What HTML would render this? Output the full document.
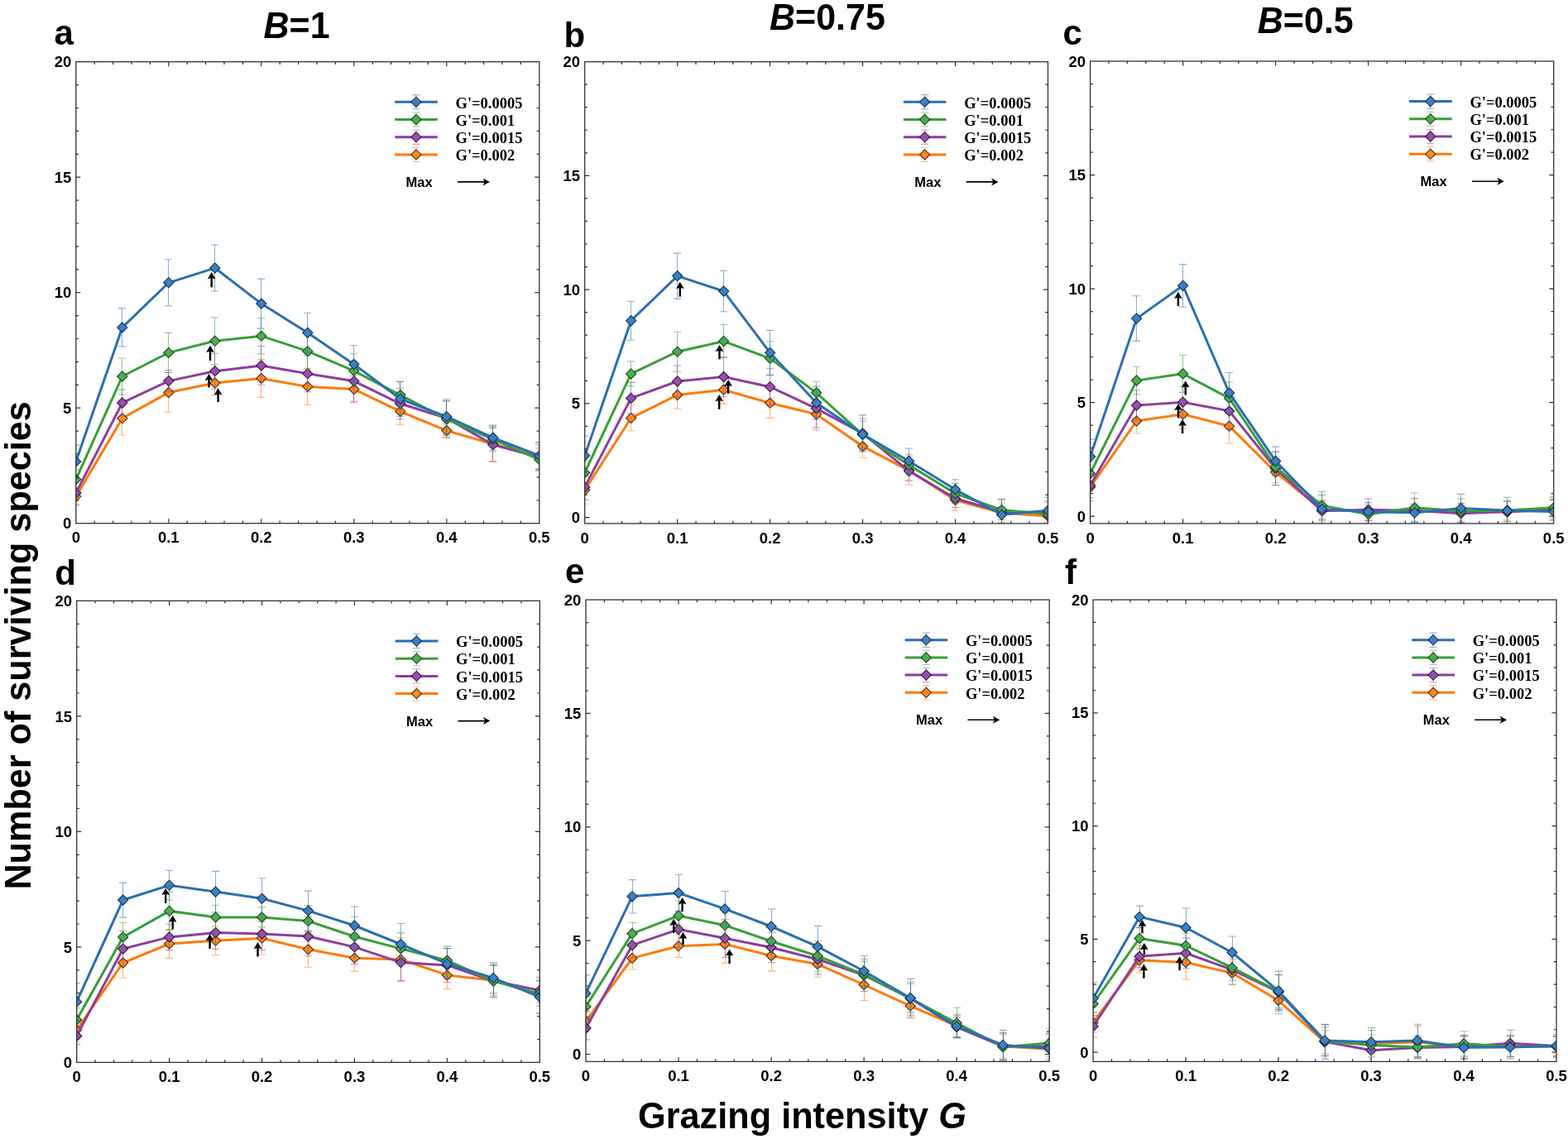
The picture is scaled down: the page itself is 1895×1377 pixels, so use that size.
<!DOCTYPE html>
<html><head><meta charset="utf-8"><title>Number of surviving species vs grazing intensity</title>
<style>html,body{margin:0;padding:0;background:#fff;}body{width:1895px;height:1377px;overflow:hidden;}svg{display:block;}.t{font-family:'Liberation Sans', Arial, Helvetica, sans-serif;font-weight:bold;fill:#000;}.s{font-family:'Liberation Serif', 'Times New Roman', serif;font-weight:bold;fill:#000;}</style></head><body>
<svg width="1895" height="1377" viewBox="0 0 1895 1377">
<rect width="1895" height="1377" fill="#fff"/>
<defs>
<clipPath id="cla"><rect x="91.8" y="74.7" width="560" height="558"/></clipPath>
<clipPath id="clb"><rect x="706.7" y="74.7" width="559.8" height="558.2"/></clipPath>
<clipPath id="clc"><rect x="1317.6" y="74" width="560.1" height="558.9"/></clipPath>
<clipPath id="cld"><rect x="92.7" y="726.4" width="559.6" height="558"/></clipPath>
<clipPath id="cle"><rect x="708" y="725.1" width="560.2" height="558.3"/></clipPath>
<clipPath id="clf"><rect x="1321.1" y="725.1" width="559.9" height="558.3"/></clipPath>
</defs>
<g clip-path="url(#cla)">
<path d="M91.5 589.2V611.2M86.9 589.2H96.1M86.9 611.2H96.1M147.5 485.4V526M142.9 485.4H152.1M142.9 526H152.1M203.5 450.7V498.3M198.9 450.7H208.1M198.9 498.3H208.1M259.5 448V478M254.9 448H264.1M254.9 478H264.1M315.5 434.4V480.4M310.9 434.4H320.1M310.9 480.4H320.1M371.5 445.4V489.4M366.9 445.4H376.1M366.9 489.4H376.1M427.5 454.6V486.6M422.9 454.6H432.1M422.9 486.6H432.1M483.5 481.7V513.1M478.9 481.7H488.1M478.9 513.1H488.1M539.5 512.1V529.1M534.9 512.1H544.1M534.9 529.1H544.1M595.5 515V558.4M590.9 515H600.1M590.9 558.4H600.1M651.5 535.2V568.4M646.9 535.2H656.1M646.9 568.4H656.1" stroke="#ff7a0a" stroke-opacity="0.55" stroke-width="1.1" fill="none"/>
<polyline points="91.8,600.2 147.8,505.7 203.8,474.5 259.8,463 315.8,457.4 371.8,467.4 427.8,470.6 483.8,497.4 539.8,520.6 595.8,536.7 651.8,551.8" fill="none" stroke="#ff7a0a" stroke-width="3.0" stroke-linejoin="miter" stroke-miterlimit="3"/>
<path d="M91.8 594.1L97.9 600.2L91.8 606.3L85.7 600.2Z" fill="#ff8a1e" stroke="#553010" stroke-width="1.1"/>
<path d="M147.8 499.6L153.9 505.7L147.8 511.8L141.7 505.7Z" fill="#ff8a1e" stroke="#553010" stroke-width="1.1"/>
<path d="M203.8 468.4L209.9 474.5L203.8 480.6L197.7 474.5Z" fill="#ff8a1e" stroke="#553010" stroke-width="1.1"/>
<path d="M259.8 456.9L265.9 463L259.8 469.1L253.7 463Z" fill="#ff8a1e" stroke="#553010" stroke-width="1.1"/>
<path d="M315.8 451.3L321.9 457.4L315.8 463.5L309.7 457.4Z" fill="#ff8a1e" stroke="#553010" stroke-width="1.1"/>
<path d="M371.8 461.3L377.9 467.4L371.8 473.5L365.7 467.4Z" fill="#ff8a1e" stroke="#553010" stroke-width="1.1"/>
<path d="M427.8 464.5L433.9 470.6L427.8 476.7L421.7 470.6Z" fill="#ff8a1e" stroke="#553010" stroke-width="1.1"/>
<path d="M483.8 491.3L489.9 497.4L483.8 503.5L477.7 497.4Z" fill="#ff8a1e" stroke="#553010" stroke-width="1.1"/>
<path d="M539.8 514.5L545.9 520.6L539.8 526.7L533.7 520.6Z" fill="#ff8a1e" stroke="#553010" stroke-width="1.1"/>
<path d="M595.8 530.6L601.9 536.7L595.8 542.8L589.7 536.7Z" fill="#ff8a1e" stroke="#553010" stroke-width="1.1"/>
<path d="M651.8 545.7L657.9 551.8L651.8 557.9L645.7 551.8Z" fill="#ff8a1e" stroke="#553010" stroke-width="1.1"/>
<path d="M91.5 581.9V609.9M86.9 581.9H96.1M86.9 609.9H96.1M147.5 471V503M142.9 471H152.1M142.9 503H152.1M203.5 447.6V473.6M198.9 447.6H208.1M198.9 473.6H208.1M259.5 427.2V470.2M254.9 427.2H264.1M254.9 470.2H264.1M315.5 418.5V465.3M310.9 418.5H320.1M310.9 465.3H320.1M371.5 429.7V473.7M366.9 429.7H376.1M366.9 473.7H376.1M427.5 436.4V485.2M422.9 436.4H432.1M422.9 485.2H432.1M483.5 469.3V506.7M478.9 469.3H488.1M478.9 506.7H488.1M539.5 484.8V526.2M534.9 484.8H544.1M534.9 526.2H544.1M595.5 517.4V557.8M590.9 517.4H600.1M590.9 557.8H600.1M651.5 537.7V567.7M646.9 537.7H656.1M646.9 567.7H656.1" stroke="#8d3e9f" stroke-opacity="0.55" stroke-width="1.1" fill="none"/>
<polyline points="91.8,595.9 147.8,487 203.8,460.6 259.8,448.7 315.8,441.9 371.8,451.7 427.8,460.8 483.8,488 539.8,505.5 595.8,537.6 651.8,552.7" fill="none" stroke="#8d3e9f" stroke-width="3.0" stroke-linejoin="miter" stroke-miterlimit="3"/>
<path d="M91.8 589.8L97.9 595.9L91.8 602L85.7 595.9Z" fill="#9b4db0" stroke="#3a1a44" stroke-width="1.1"/>
<path d="M147.8 480.9L153.9 487L147.8 493.1L141.7 487Z" fill="#9b4db0" stroke="#3a1a44" stroke-width="1.1"/>
<path d="M203.8 454.5L209.9 460.6L203.8 466.7L197.7 460.6Z" fill="#9b4db0" stroke="#3a1a44" stroke-width="1.1"/>
<path d="M259.8 442.6L265.9 448.7L259.8 454.8L253.7 448.7Z" fill="#9b4db0" stroke="#3a1a44" stroke-width="1.1"/>
<path d="M315.8 435.8L321.9 441.9L315.8 448L309.7 441.9Z" fill="#9b4db0" stroke="#3a1a44" stroke-width="1.1"/>
<path d="M371.8 445.6L377.9 451.7L371.8 457.8L365.7 451.7Z" fill="#9b4db0" stroke="#3a1a44" stroke-width="1.1"/>
<path d="M427.8 454.7L433.9 460.8L427.8 466.9L421.7 460.8Z" fill="#9b4db0" stroke="#3a1a44" stroke-width="1.1"/>
<path d="M483.8 481.9L489.9 488L483.8 494.1L477.7 488Z" fill="#9b4db0" stroke="#3a1a44" stroke-width="1.1"/>
<path d="M539.8 499.4L545.9 505.5L539.8 511.6L533.7 505.5Z" fill="#9b4db0" stroke="#3a1a44" stroke-width="1.1"/>
<path d="M595.8 531.5L601.9 537.6L595.8 543.7L589.7 537.6Z" fill="#9b4db0" stroke="#3a1a44" stroke-width="1.1"/>
<path d="M651.8 546.6L657.9 552.7L651.8 558.8L645.7 552.7Z" fill="#9b4db0" stroke="#3a1a44" stroke-width="1.1"/>
<path d="M91.5 567.6V591.6M86.9 567.6H96.1M86.9 591.6H96.1M147.5 433V477M142.9 433H152.1M142.9 477H152.1M203.5 402.4V450.4M198.9 402.4H208.1M198.9 450.4H208.1M259.5 383.7V440.7M254.9 383.7H264.1M254.9 440.7H264.1M315.5 384.5V427.9M310.9 384.5H320.1M310.9 427.9H320.1M371.5 402.7V446.7M366.9 402.7H376.1M366.9 446.7H376.1M427.5 427.8V468.8M422.9 427.8H432.1M422.9 468.8H432.1M483.5 461.6V493.6M478.9 461.6H488.1M478.9 493.6H488.1M539.5 484.9V528.9M534.9 484.9H544.1M534.9 528.9H544.1M595.5 516V546M590.9 516H600.1M590.9 546H600.1M651.5 542V569.2M646.9 542H656.1M646.9 569.2H656.1" stroke="#38a038" stroke-opacity="0.55" stroke-width="1.1" fill="none"/>
<polyline points="91.8,579.6 147.8,455 203.8,426.4 259.8,412.2 315.8,406.2 371.8,424.7 427.8,448.3 483.8,477.6 539.8,506.9 595.8,531 651.8,555.6" fill="none" stroke="#38a038" stroke-width="3.0" stroke-linejoin="miter" stroke-miterlimit="3"/>
<path d="M91.8 573.5L97.9 579.6L91.8 585.7L85.7 579.6Z" fill="#4cae4c" stroke="#1d4a1d" stroke-width="1.1"/>
<path d="M147.8 448.9L153.9 455L147.8 461.1L141.7 455Z" fill="#4cae4c" stroke="#1d4a1d" stroke-width="1.1"/>
<path d="M203.8 420.3L209.9 426.4L203.8 432.5L197.7 426.4Z" fill="#4cae4c" stroke="#1d4a1d" stroke-width="1.1"/>
<path d="M259.8 406.1L265.9 412.2L259.8 418.3L253.7 412.2Z" fill="#4cae4c" stroke="#1d4a1d" stroke-width="1.1"/>
<path d="M315.8 400.1L321.9 406.2L315.8 412.3L309.7 406.2Z" fill="#4cae4c" stroke="#1d4a1d" stroke-width="1.1"/>
<path d="M371.8 418.6L377.9 424.7L371.8 430.8L365.7 424.7Z" fill="#4cae4c" stroke="#1d4a1d" stroke-width="1.1"/>
<path d="M427.8 442.2L433.9 448.3L427.8 454.4L421.7 448.3Z" fill="#4cae4c" stroke="#1d4a1d" stroke-width="1.1"/>
<path d="M483.8 471.5L489.9 477.6L483.8 483.7L477.7 477.6Z" fill="#4cae4c" stroke="#1d4a1d" stroke-width="1.1"/>
<path d="M539.8 500.8L545.9 506.9L539.8 513L533.7 506.9Z" fill="#4cae4c" stroke="#1d4a1d" stroke-width="1.1"/>
<path d="M595.8 524.9L601.9 531L595.8 537.1L589.7 531Z" fill="#4cae4c" stroke="#1d4a1d" stroke-width="1.1"/>
<path d="M651.8 549.5L657.9 555.6L651.8 561.7L645.7 555.6Z" fill="#4cae4c" stroke="#1d4a1d" stroke-width="1.1"/>
<path d="M91.5 537.9V577.9M86.9 537.9H96.1M86.9 577.9H96.1M147.5 372.9V418.9M142.9 372.9H152.1M142.9 418.9H152.1M203.5 313.7V369.7M198.9 313.7H208.1M198.9 369.7H208.1M259.5 296V352M254.9 296H264.1M254.9 352H264.1M315.5 337.1V397.1M310.9 337.1H320.1M310.9 397.1H320.1M371.5 378.3V426.3M366.9 378.3H376.1M366.9 426.3H376.1M427.5 417.8V463M422.9 417.8H432.1M422.9 463H432.1M483.5 461.3V503.3M478.9 461.3H488.1M478.9 503.3H488.1M539.5 482.7V524.7M534.9 482.7H544.1M534.9 524.7H544.1M595.5 514.1V544.1M590.9 514.1H600.1M590.9 544.1H600.1M651.5 534.9V566.9M646.9 534.9H656.1M646.9 566.9H656.1" stroke="#2b6fb0" stroke-opacity="0.55" stroke-width="1.1" fill="none"/>
<polyline points="91.8,557.9 147.8,395.9 203.8,341.7 259.8,324 315.8,367.1 371.8,402.3 427.8,440.4 483.8,482.3 539.8,503.7 595.8,529.1 651.8,550.9" fill="none" stroke="#2b6fb0" stroke-width="3.0" stroke-linejoin="miter" stroke-miterlimit="3"/>
<path d="M91.8 551.8L97.9 557.9L91.8 564L85.7 557.9Z" fill="#3a80c6" stroke="#1b3550" stroke-width="1.1"/>
<path d="M147.8 389.8L153.9 395.9L147.8 402L141.7 395.9Z" fill="#3a80c6" stroke="#1b3550" stroke-width="1.1"/>
<path d="M203.8 335.6L209.9 341.7L203.8 347.8L197.7 341.7Z" fill="#3a80c6" stroke="#1b3550" stroke-width="1.1"/>
<path d="M259.8 317.9L265.9 324L259.8 330.1L253.7 324Z" fill="#3a80c6" stroke="#1b3550" stroke-width="1.1"/>
<path d="M315.8 361L321.9 367.1L315.8 373.2L309.7 367.1Z" fill="#3a80c6" stroke="#1b3550" stroke-width="1.1"/>
<path d="M371.8 396.2L377.9 402.3L371.8 408.4L365.7 402.3Z" fill="#3a80c6" stroke="#1b3550" stroke-width="1.1"/>
<path d="M427.8 434.3L433.9 440.4L427.8 446.5L421.7 440.4Z" fill="#3a80c6" stroke="#1b3550" stroke-width="1.1"/>
<path d="M483.8 476.2L489.9 482.3L483.8 488.4L477.7 482.3Z" fill="#3a80c6" stroke="#1b3550" stroke-width="1.1"/>
<path d="M539.8 497.6L545.9 503.7L539.8 509.8L533.7 503.7Z" fill="#3a80c6" stroke="#1b3550" stroke-width="1.1"/>
<path d="M595.8 523L601.9 529.1L595.8 535.2L589.7 529.1Z" fill="#3a80c6" stroke="#1b3550" stroke-width="1.1"/>
<path d="M651.8 544.8L657.9 550.9L651.8 557L645.7 550.9Z" fill="#3a80c6" stroke="#1b3550" stroke-width="1.1"/>
</g>
<path d="M255.7 347.3L255.7 333" stroke="#000" stroke-width="2.4" fill="none"/><path d="M255.7 329L260.5 337.2L255.7 336L250.9 337.2Z" fill="#000"/>
<path d="M254 435.9L254 421.7" stroke="#000" stroke-width="2.4" fill="none"/><path d="M254 417.7L258.8 425.9L254 424.7L249.2 425.9Z" fill="#000"/>
<path d="M252.5 468.4L252.5 455.8" stroke="#000" stroke-width="2.4" fill="none"/><path d="M252.5 451.8L257.3 460L252.5 458.8L247.7 460Z" fill="#000"/>
<path d="M263.6 485.9L263.6 473.3" stroke="#000" stroke-width="2.4" fill="none"/><path d="M263.6 469.3L268.4 477.5L263.6 476.3L258.8 477.5Z" fill="#000"/>
<rect x="91.8" y="74.7" width="560" height="558" fill="none" stroke="#333333" stroke-width="1.3"/>
<path d="M114.2 632.7v-3.2M114.2 74.7v3.2M136.6 632.7v-3.2M136.6 74.7v3.2M159 632.7v-3.2M159 74.7v3.2M181.4 632.7v-3.2M181.4 74.7v3.2M203.8 632.7v-5.5M203.8 74.7v5.5M226.2 632.7v-3.2M226.2 74.7v3.2M248.6 632.7v-3.2M248.6 74.7v3.2M271 632.7v-3.2M271 74.7v3.2M293.4 632.7v-3.2M293.4 74.7v3.2M315.8 632.7v-5.5M315.8 74.7v5.5M338.2 632.7v-3.2M338.2 74.7v3.2M360.6 632.7v-3.2M360.6 74.7v3.2M383 632.7v-3.2M383 74.7v3.2M405.4 632.7v-3.2M405.4 74.7v3.2M427.8 632.7v-5.5M427.8 74.7v5.5M450.2 632.7v-3.2M450.2 74.7v3.2M472.6 632.7v-3.2M472.6 74.7v3.2M495 632.7v-3.2M495 74.7v3.2M517.4 632.7v-3.2M517.4 74.7v3.2M539.8 632.7v-5.5M539.8 74.7v5.5M562.2 632.7v-3.2M562.2 74.7v3.2M584.6 632.7v-3.2M584.6 74.7v3.2M607 632.7v-3.2M607 74.7v3.2M629.4 632.7v-3.2M629.4 74.7v3.2M91.8 604.8h3.2M651.8 604.8h-3.2M91.8 576.9h3.2M651.8 576.9h-3.2M91.8 549h3.2M651.8 549h-3.2M91.8 521.1h3.2M651.8 521.1h-3.2M91.8 493.2h5.5M651.8 493.2h-5.5M91.8 465.3h3.2M651.8 465.3h-3.2M91.8 437.4h3.2M651.8 437.4h-3.2M91.8 409.5h3.2M651.8 409.5h-3.2M91.8 381.6h3.2M651.8 381.6h-3.2M91.8 353.7h5.5M651.8 353.7h-5.5M91.8 325.8h3.2M651.8 325.8h-3.2M91.8 297.9h3.2M651.8 297.9h-3.2M91.8 270h3.2M651.8 270h-3.2M91.8 242.1h3.2M651.8 242.1h-3.2M91.8 214.2h5.5M651.8 214.2h-5.5M91.8 186.3h3.2M651.8 186.3h-3.2M91.8 158.4h3.2M651.8 158.4h-3.2M91.8 130.5h3.2M651.8 130.5h-3.2M91.8 102.6h3.2M651.8 102.6h-3.2" stroke="#333333" stroke-width="1.2" fill="none"/>
<text class="t" transform="translate(91.8 656.3) scale(1 1.04)" font-size="18.5" text-anchor="middle">0</text>
<text class="t" transform="translate(203.8 656.3) scale(1 1.04)" font-size="18.5" text-anchor="middle">0.1</text>
<text class="t" transform="translate(315.8 656.3) scale(1 1.04)" font-size="18.5" text-anchor="middle">0.2</text>
<text class="t" transform="translate(427.8 656.3) scale(1 1.04)" font-size="18.5" text-anchor="middle">0.3</text>
<text class="t" transform="translate(539.8 656.3) scale(1 1.04)" font-size="18.5" text-anchor="middle">0.4</text>
<text class="t" transform="translate(651.8 656.3) scale(1 1.04)" font-size="18.5" text-anchor="middle">0.5</text>
<text class="t" transform="translate(86.2 639.3) scale(1 1.04)" font-size="18.5" text-anchor="end">0</text>
<text class="t" transform="translate(86.2 499.8) scale(1 1.04)" font-size="18.5" text-anchor="end">5</text>
<text class="t" transform="translate(86.2 360.3) scale(1 1.04)" font-size="18.5" text-anchor="end">10</text>
<text class="t" transform="translate(86.2 220.8) scale(1 1.04)" font-size="18.5" text-anchor="end">15</text>
<text class="t" transform="translate(86.2 81.3) scale(1 1.04)" font-size="18.5" text-anchor="end">20</text>
<path d="M502.9 114.7V131.9M498.2 114.7H507.6M498.2 131.9H507.6" stroke="#84aad0" stroke-width="1" fill="none"/>
<path d="M477.2 123.3H528.8" stroke="#2b6fb0" stroke-width="3.0"/>
<path d="M502.9 117.2L509 123.3L502.9 129.4L496.8 123.3Z" fill="#3a80c6" stroke="#1b3550" stroke-width="1.1"/>
<text class="s" x="550.5" y="130.5" font-size="18.5">G'=0.0005</text>
<path d="M502.9 135.9V153.1M498.2 135.9H507.6M498.2 153.1H507.6" stroke="#a0c9a0" stroke-width="1" fill="none"/>
<path d="M477.2 144.5H528.8" stroke="#38a038" stroke-width="3.0"/>
<path d="M502.9 138.4L509 144.5L502.9 150.6L496.8 144.5Z" fill="#4cae4c" stroke="#1d4a1d" stroke-width="1.1"/>
<text class="s" x="550.5" y="151.7" font-size="18.5">G'=0.001</text>
<path d="M502.9 157.1V174.3M498.2 157.1H507.6M498.2 174.3H507.6" stroke="#c49dcf" stroke-width="1" fill="none"/>
<path d="M477.2 165.7H528.8" stroke="#8d3e9f" stroke-width="3.0"/>
<path d="M502.9 159.6L509 165.7L502.9 171.8L496.8 165.7Z" fill="#9b4db0" stroke="#3a1a44" stroke-width="1.1"/>
<text class="s" x="550.5" y="172.9" font-size="18.5">G'=0.0015</text>
<path d="M502.9 178.3V195.5M498.2 178.3H507.6M498.2 195.5H507.6" stroke="#f8bb82" stroke-width="1" fill="none"/>
<path d="M477.2 186.9H528.8" stroke="#ff7a0a" stroke-width="3.0"/>
<path d="M502.9 180.8L509 186.9L502.9 193L496.8 186.9Z" fill="#ff8a1e" stroke="#553010" stroke-width="1.1"/>
<text class="s" x="550.5" y="194.1" font-size="18.5">G'=0.002</text>
<text class="t" transform="translate(490.6 225.8) scale(1 1.04)" font-size="16.5">Max</text>
<path d="M553 219.9H587.9" stroke="#000" stroke-width="1.6"/>
<path d="M591.9 219.9L583.5 215.4L585.7 219.9L583.5 224.4Z" fill="#000"/>
<g clip-path="url(#clb)">
<path d="M706.5 575.8V609.2M701.9 575.8H711.1M701.9 609.2H711.1M762.5 490V520.8M757.9 490H767.1M757.9 520.8H767.1M818.5 460.8V494.2M813.9 460.8H823.1M813.9 494.2H823.1M874.5 454V488.4M869.9 454H879.1M869.9 488.4H879.1M930.5 469V505.4M925.9 469H935.1M925.9 505.4H935.1M986.5 481.8V519.8M981.9 481.8H991.1M981.9 519.8H991.1M1042.5 525.9V553.3M1037.9 525.9H1047.1M1037.9 553.3H1047.1M1098.5 551.4V586.2M1093.9 551.4H1103.1M1093.9 586.2H1103.1M1154.5 592.3V616.9M1149.9 592.3H1159.1M1149.9 616.9H1159.1M1210.5 608V632M1205.9 608H1215.1M1205.9 632H1215.1M1266.5 613.9V633.9M1261.9 613.9H1271.1M1261.9 633.9H1271.1" stroke="#ff7a0a" stroke-opacity="0.55" stroke-width="1.1" fill="none"/>
<polyline points="706.7,592.5 762.68,505.4 818.66,477.5 874.64,471.2 930.62,487.2 986.6,500.8 1042.58,539.6 1098.56,568.8 1154.54,604.6 1210.52,620 1266.5,623.9" fill="none" stroke="#ff7a0a" stroke-width="3.0" stroke-linejoin="miter" stroke-miterlimit="3"/>
<path d="M706.7 586.4L712.8 592.5L706.7 598.6L700.6 592.5Z" fill="#ff8a1e" stroke="#553010" stroke-width="1.1"/>
<path d="M762.68 499.3L768.78 505.4L762.68 511.5L756.58 505.4Z" fill="#ff8a1e" stroke="#553010" stroke-width="1.1"/>
<path d="M818.66 471.4L824.76 477.5L818.66 483.6L812.56 477.5Z" fill="#ff8a1e" stroke="#553010" stroke-width="1.1"/>
<path d="M874.64 465.1L880.74 471.2L874.64 477.3L868.54 471.2Z" fill="#ff8a1e" stroke="#553010" stroke-width="1.1"/>
<path d="M930.62 481.1L936.72 487.2L930.62 493.3L924.52 487.2Z" fill="#ff8a1e" stroke="#553010" stroke-width="1.1"/>
<path d="M986.6 494.7L992.7 500.8L986.6 506.9L980.5 500.8Z" fill="#ff8a1e" stroke="#553010" stroke-width="1.1"/>
<path d="M1042.58 533.5L1048.68 539.6L1042.58 545.7L1036.48 539.6Z" fill="#ff8a1e" stroke="#553010" stroke-width="1.1"/>
<path d="M1098.56 562.7L1104.66 568.8L1098.56 574.9L1092.46 568.8Z" fill="#ff8a1e" stroke="#553010" stroke-width="1.1"/>
<path d="M1154.54 598.5L1160.64 604.6L1154.54 610.7L1148.44 604.6Z" fill="#ff8a1e" stroke="#553010" stroke-width="1.1"/>
<path d="M1210.52 613.9L1216.62 620L1210.52 626.1L1204.42 620Z" fill="#ff8a1e" stroke="#553010" stroke-width="1.1"/>
<path d="M1266.5 617.8L1272.6 623.9L1266.5 630L1260.4 623.9Z" fill="#ff8a1e" stroke="#553010" stroke-width="1.1"/>
<path d="M706.5 573.4V604.4M701.9 573.4H711.1M701.9 604.4H711.1M762.5 462.4V500.4M757.9 462.4H767.1M757.9 500.4H767.1M818.5 442V480M813.9 442H823.1M813.9 480H823.1M874.5 431.5V479.5M869.9 431.5H879.1M869.9 479.5H879.1M930.5 445.2V490.2M925.9 445.2H935.1M925.9 490.2H935.1M986.5 470.9V516.9M981.9 470.9H991.1M981.9 516.9H991.1M1042.5 501.9V545.9M1037.9 501.9H1047.1M1037.9 545.9H1047.1M1098.5 557.7V581.1M1093.9 557.7H1103.1M1093.9 581.1H1103.1M1154.5 591.5V613.5M1149.9 591.5H1159.1M1149.9 613.5H1159.1M1210.5 603V635M1205.9 603H1215.1M1205.9 635H1215.1M1266.5 607.2V631.2M1261.9 607.2H1271.1M1261.9 631.2H1271.1" stroke="#8d3e9f" stroke-opacity="0.55" stroke-width="1.1" fill="none"/>
<polyline points="706.7,588.9 762.68,481.4 818.66,461 874.64,455.5 930.62,467.7 986.6,493.9 1042.58,523.9 1098.56,569.4 1154.54,602.5 1210.52,619 1266.5,619.2" fill="none" stroke="#8d3e9f" stroke-width="3.0" stroke-linejoin="miter" stroke-miterlimit="3"/>
<path d="M706.7 582.8L712.8 588.9L706.7 595L700.6 588.9Z" fill="#9b4db0" stroke="#3a1a44" stroke-width="1.1"/>
<path d="M762.68 475.3L768.78 481.4L762.68 487.5L756.58 481.4Z" fill="#9b4db0" stroke="#3a1a44" stroke-width="1.1"/>
<path d="M818.66 454.9L824.76 461L818.66 467.1L812.56 461Z" fill="#9b4db0" stroke="#3a1a44" stroke-width="1.1"/>
<path d="M874.64 449.4L880.74 455.5L874.64 461.6L868.54 455.5Z" fill="#9b4db0" stroke="#3a1a44" stroke-width="1.1"/>
<path d="M930.62 461.6L936.72 467.7L930.62 473.8L924.52 467.7Z" fill="#9b4db0" stroke="#3a1a44" stroke-width="1.1"/>
<path d="M986.6 487.8L992.7 493.9L986.6 500L980.5 493.9Z" fill="#9b4db0" stroke="#3a1a44" stroke-width="1.1"/>
<path d="M1042.58 517.8L1048.68 523.9L1042.58 530L1036.48 523.9Z" fill="#9b4db0" stroke="#3a1a44" stroke-width="1.1"/>
<path d="M1098.56 563.3L1104.66 569.4L1098.56 575.5L1092.46 569.4Z" fill="#9b4db0" stroke="#3a1a44" stroke-width="1.1"/>
<path d="M1154.54 596.4L1160.64 602.5L1154.54 608.6L1148.44 602.5Z" fill="#9b4db0" stroke="#3a1a44" stroke-width="1.1"/>
<path d="M1210.52 612.9L1216.62 619L1210.52 625.1L1204.42 619Z" fill="#9b4db0" stroke="#3a1a44" stroke-width="1.1"/>
<path d="M1266.5 613.1L1272.6 619.2L1266.5 625.3L1260.4 619.2Z" fill="#9b4db0" stroke="#3a1a44" stroke-width="1.1"/>
<path d="M706.5 557.4V585.4M701.9 557.4H711.1M701.9 585.4H711.1M762.5 436.9V466.9M757.9 436.9H767.1M757.9 466.9H767.1M818.5 401.2V449.2M813.9 401.2H823.1M813.9 449.2H823.1M874.5 392.2V432.8M869.9 392.2H879.1M869.9 432.8H879.1M930.5 412.8V453.8M925.9 412.8H935.1M925.9 453.8H935.1M986.5 461.2V488.4M981.9 461.2H991.1M981.9 488.4H991.1M1042.5 509V541.8M1037.9 509H1047.1M1037.9 541.8H1047.1M1098.5 549.2V575.2M1093.9 549.2H1103.1M1093.9 575.2H1103.1M1154.5 584.6V608.6M1149.9 584.6H1159.1M1149.9 608.6H1159.1M1210.5 604.4V628.4M1205.9 604.4H1215.1M1205.9 628.4H1215.1M1266.5 605.5V637.5M1261.9 605.5H1271.1M1261.9 637.5H1271.1" stroke="#38a038" stroke-opacity="0.55" stroke-width="1.1" fill="none"/>
<polyline points="706.7,571.4 762.68,451.9 818.66,425.2 874.64,412.5 930.62,433.3 986.6,474.8 1042.58,525.4 1098.56,562.2 1154.54,596.6 1210.52,616.4 1266.5,621.5" fill="none" stroke="#38a038" stroke-width="3.0" stroke-linejoin="miter" stroke-miterlimit="3"/>
<path d="M706.7 565.3L712.8 571.4L706.7 577.5L700.6 571.4Z" fill="#4cae4c" stroke="#1d4a1d" stroke-width="1.1"/>
<path d="M762.68 445.8L768.78 451.9L762.68 458L756.58 451.9Z" fill="#4cae4c" stroke="#1d4a1d" stroke-width="1.1"/>
<path d="M818.66 419.1L824.76 425.2L818.66 431.3L812.56 425.2Z" fill="#4cae4c" stroke="#1d4a1d" stroke-width="1.1"/>
<path d="M874.64 406.4L880.74 412.5L874.64 418.6L868.54 412.5Z" fill="#4cae4c" stroke="#1d4a1d" stroke-width="1.1"/>
<path d="M930.62 427.2L936.72 433.3L930.62 439.4L924.52 433.3Z" fill="#4cae4c" stroke="#1d4a1d" stroke-width="1.1"/>
<path d="M986.6 468.7L992.7 474.8L986.6 480.9L980.5 474.8Z" fill="#4cae4c" stroke="#1d4a1d" stroke-width="1.1"/>
<path d="M1042.58 519.3L1048.68 525.4L1042.58 531.5L1036.48 525.4Z" fill="#4cae4c" stroke="#1d4a1d" stroke-width="1.1"/>
<path d="M1098.56 556.1L1104.66 562.2L1098.56 568.3L1092.46 562.2Z" fill="#4cae4c" stroke="#1d4a1d" stroke-width="1.1"/>
<path d="M1154.54 590.5L1160.64 596.6L1154.54 602.7L1148.44 596.6Z" fill="#4cae4c" stroke="#1d4a1d" stroke-width="1.1"/>
<path d="M1210.52 610.3L1216.62 616.4L1210.52 622.5L1204.42 616.4Z" fill="#4cae4c" stroke="#1d4a1d" stroke-width="1.1"/>
<path d="M1266.5 615.4L1272.6 621.5L1266.5 627.6L1260.4 621.5Z" fill="#4cae4c" stroke="#1d4a1d" stroke-width="1.1"/>
<path d="M706.5 527.1V575.1M701.9 527.1H711.1M701.9 575.1H711.1M762.5 364.2V411.2M757.9 364.2H767.1M757.9 411.2H767.1M818.5 306.1V361.1M813.9 306.1H823.1M813.9 361.1H823.1M874.5 327.3V376.7M869.9 327.3H879.1M869.9 376.7H879.1M930.5 399.4V453.4M925.9 399.4H935.1M925.9 453.4H935.1M986.5 467.1V507.1M981.9 467.1H991.1M981.9 507.1H991.1M1042.5 506V544M1037.9 506H1047.1M1037.9 544H1047.1M1098.5 542V573M1093.9 542H1103.1M1093.9 573H1103.1M1154.5 579.8V603.8M1149.9 579.8H1159.1M1149.9 603.8H1159.1M1210.5 612.3V632.3M1205.9 612.3H1215.1M1205.9 632.3H1215.1M1266.5 601.2V633.2M1261.9 601.2H1271.1M1261.9 633.2H1271.1" stroke="#2b6fb0" stroke-opacity="0.55" stroke-width="1.1" fill="none"/>
<polyline points="706.7,551.1 762.68,387.7 818.66,333.6 874.64,352 930.62,426.4 986.6,487.1 1042.58,525 1098.56,557.5 1154.54,591.8 1210.52,622.3 1266.5,617.2" fill="none" stroke="#2b6fb0" stroke-width="3.0" stroke-linejoin="miter" stroke-miterlimit="3"/>
<path d="M706.7 545L712.8 551.1L706.7 557.2L700.6 551.1Z" fill="#3a80c6" stroke="#1b3550" stroke-width="1.1"/>
<path d="M762.68 381.6L768.78 387.7L762.68 393.8L756.58 387.7Z" fill="#3a80c6" stroke="#1b3550" stroke-width="1.1"/>
<path d="M818.66 327.5L824.76 333.6L818.66 339.7L812.56 333.6Z" fill="#3a80c6" stroke="#1b3550" stroke-width="1.1"/>
<path d="M874.64 345.9L880.74 352L874.64 358.1L868.54 352Z" fill="#3a80c6" stroke="#1b3550" stroke-width="1.1"/>
<path d="M930.62 420.3L936.72 426.4L930.62 432.5L924.52 426.4Z" fill="#3a80c6" stroke="#1b3550" stroke-width="1.1"/>
<path d="M986.6 481L992.7 487.1L986.6 493.2L980.5 487.1Z" fill="#3a80c6" stroke="#1b3550" stroke-width="1.1"/>
<path d="M1042.58 518.9L1048.68 525L1042.58 531.1L1036.48 525Z" fill="#3a80c6" stroke="#1b3550" stroke-width="1.1"/>
<path d="M1098.56 551.4L1104.66 557.5L1098.56 563.6L1092.46 557.5Z" fill="#3a80c6" stroke="#1b3550" stroke-width="1.1"/>
<path d="M1154.54 585.7L1160.64 591.8L1154.54 597.9L1148.44 591.8Z" fill="#3a80c6" stroke="#1b3550" stroke-width="1.1"/>
<path d="M1210.52 616.2L1216.62 622.3L1210.52 628.4L1204.42 622.3Z" fill="#3a80c6" stroke="#1b3550" stroke-width="1.1"/>
<path d="M1266.5 611.1L1272.6 617.2L1266.5 623.3L1260.4 617.2Z" fill="#3a80c6" stroke="#1b3550" stroke-width="1.1"/>
</g>
<path d="M821.8 358.6L821.8 344.8" stroke="#000" stroke-width="2.4" fill="none"/><path d="M821.8 340.8L826.6 349L821.8 347.8L817 349Z" fill="#000"/>
<path d="M869.5 434.3L869.5 420.9" stroke="#000" stroke-width="2.4" fill="none"/><path d="M869.5 416.9L874.3 425.1L869.5 423.9L864.7 425.1Z" fill="#000"/>
<path d="M880.1 476L880.1 462.9" stroke="#000" stroke-width="2.4" fill="none"/><path d="M880.1 458.9L884.9 467.1L880.1 465.9L875.3 467.1Z" fill="#000"/>
<path d="M869.2 494.9L869.2 481" stroke="#000" stroke-width="2.4" fill="none"/><path d="M869.2 477L874 485.2L869.2 484L864.4 485.2Z" fill="#000"/>
<rect x="706.7" y="74.7" width="559.8" height="558.2" fill="none" stroke="#333333" stroke-width="1.3"/>
<path d="M729.09 632.9v-3.2M729.09 74.7v3.2M751.48 632.9v-3.2M751.48 74.7v3.2M773.88 632.9v-3.2M773.88 74.7v3.2M796.27 632.9v-3.2M796.27 74.7v3.2M818.66 632.9v-5.5M818.66 74.7v5.5M841.05 632.9v-3.2M841.05 74.7v3.2M863.44 632.9v-3.2M863.44 74.7v3.2M885.84 632.9v-3.2M885.84 74.7v3.2M908.23 632.9v-3.2M908.23 74.7v3.2M930.62 632.9v-5.5M930.62 74.7v5.5M953.01 632.9v-3.2M953.01 74.7v3.2M975.4 632.9v-3.2M975.4 74.7v3.2M997.8 632.9v-3.2M997.8 74.7v3.2M1020.19 632.9v-3.2M1020.19 74.7v3.2M1042.58 632.9v-5.5M1042.58 74.7v5.5M1064.97 632.9v-3.2M1064.97 74.7v3.2M1087.36 632.9v-3.2M1087.36 74.7v3.2M1109.76 632.9v-3.2M1109.76 74.7v3.2M1132.15 632.9v-3.2M1132.15 74.7v3.2M1154.54 632.9v-5.5M1154.54 74.7v5.5M1176.93 632.9v-3.2M1176.93 74.7v3.2M1199.32 632.9v-3.2M1199.32 74.7v3.2M1221.72 632.9v-3.2M1221.72 74.7v3.2M1244.11 632.9v-3.2M1244.11 74.7v3.2M706.7 625.6h5.5M1266.5 625.6h-5.5M706.7 598.05h3.2M1266.5 598.05h-3.2M706.7 570.5h3.2M1266.5 570.5h-3.2M706.7 542.95h3.2M1266.5 542.95h-3.2M706.7 515.4h3.2M1266.5 515.4h-3.2M706.7 487.85h5.5M1266.5 487.85h-5.5M706.7 460.3h3.2M1266.5 460.3h-3.2M706.7 432.75h3.2M1266.5 432.75h-3.2M706.7 405.2h3.2M1266.5 405.2h-3.2M706.7 377.65h3.2M1266.5 377.65h-3.2M706.7 350.1h5.5M1266.5 350.1h-5.5M706.7 322.55h3.2M1266.5 322.55h-3.2M706.7 295h3.2M1266.5 295h-3.2M706.7 267.45h3.2M1266.5 267.45h-3.2M706.7 239.9h3.2M1266.5 239.9h-3.2M706.7 212.35h5.5M1266.5 212.35h-5.5M706.7 184.8h3.2M1266.5 184.8h-3.2M706.7 157.25h3.2M1266.5 157.25h-3.2M706.7 129.7h3.2M1266.5 129.7h-3.2M706.7 102.15h3.2M1266.5 102.15h-3.2" stroke="#333333" stroke-width="1.2" fill="none"/>
<text class="t" transform="translate(706.7 656.5) scale(1 1.04)" font-size="18.5" text-anchor="middle">0</text>
<text class="t" transform="translate(818.66 656.5) scale(1 1.04)" font-size="18.5" text-anchor="middle">0.1</text>
<text class="t" transform="translate(930.62 656.5) scale(1 1.04)" font-size="18.5" text-anchor="middle">0.2</text>
<text class="t" transform="translate(1042.58 656.5) scale(1 1.04)" font-size="18.5" text-anchor="middle">0.3</text>
<text class="t" transform="translate(1154.54 656.5) scale(1 1.04)" font-size="18.5" text-anchor="middle">0.4</text>
<text class="t" transform="translate(1266.5 656.5) scale(1 1.04)" font-size="18.5" text-anchor="middle">0.5</text>
<text class="t" transform="translate(701.1 632.2) scale(1 1.04)" font-size="18.5" text-anchor="end">0</text>
<text class="t" transform="translate(701.1 494.45) scale(1 1.04)" font-size="18.5" text-anchor="end">5</text>
<text class="t" transform="translate(701.1 356.7) scale(1 1.04)" font-size="18.5" text-anchor="end">10</text>
<text class="t" transform="translate(701.1 218.95) scale(1 1.04)" font-size="18.5" text-anchor="end">15</text>
<text class="t" transform="translate(701.1 81.2) scale(1 1.04)" font-size="18.5" text-anchor="end">20</text>
<path d="M1117.6 114.7V131.9M1112.9 114.7H1122.3M1112.9 131.9H1122.3" stroke="#84aad0" stroke-width="1" fill="none"/>
<path d="M1091.9 123.3H1143.5" stroke="#2b6fb0" stroke-width="3.0"/>
<path d="M1117.6 117.2L1123.7 123.3L1117.6 129.4L1111.5 123.3Z" fill="#3a80c6" stroke="#1b3550" stroke-width="1.1"/>
<text class="s" x="1165.2" y="130.5" font-size="18.5">G'=0.0005</text>
<path d="M1117.6 135.9V153.1M1112.9 135.9H1122.3M1112.9 153.1H1122.3" stroke="#a0c9a0" stroke-width="1" fill="none"/>
<path d="M1091.9 144.5H1143.5" stroke="#38a038" stroke-width="3.0"/>
<path d="M1117.6 138.4L1123.7 144.5L1117.6 150.6L1111.5 144.5Z" fill="#4cae4c" stroke="#1d4a1d" stroke-width="1.1"/>
<text class="s" x="1165.2" y="151.7" font-size="18.5">G'=0.001</text>
<path d="M1117.6 157.1V174.3M1112.9 157.1H1122.3M1112.9 174.3H1122.3" stroke="#c49dcf" stroke-width="1" fill="none"/>
<path d="M1091.9 165.7H1143.5" stroke="#8d3e9f" stroke-width="3.0"/>
<path d="M1117.6 159.6L1123.7 165.7L1117.6 171.8L1111.5 165.7Z" fill="#9b4db0" stroke="#3a1a44" stroke-width="1.1"/>
<text class="s" x="1165.2" y="172.9" font-size="18.5">G'=0.0015</text>
<path d="M1117.6 178.3V195.5M1112.9 178.3H1122.3M1112.9 195.5H1122.3" stroke="#f8bb82" stroke-width="1" fill="none"/>
<path d="M1091.9 186.9H1143.5" stroke="#ff7a0a" stroke-width="3.0"/>
<path d="M1117.6 180.8L1123.7 186.9L1117.6 193L1111.5 186.9Z" fill="#ff8a1e" stroke="#553010" stroke-width="1.1"/>
<text class="s" x="1165.2" y="194.1" font-size="18.5">G'=0.002</text>
<text class="t" transform="translate(1105.3 225.8) scale(1 1.04)" font-size="16.5">Max</text>
<path d="M1167.7 219.9H1202.6" stroke="#000" stroke-width="1.6"/>
<path d="M1206.6 219.9L1198.2 215.4L1200.4 219.9L1198.2 224.4Z" fill="#000"/>
<g clip-path="url(#clc)">
<path d="M1317.5 572.2V605.6M1312.9 572.2H1322.1M1312.9 605.6H1322.1M1373.5 494V524M1368.9 494H1378.1M1368.9 524H1378.1M1429.5 483.3V518.1M1424.9 483.3H1434.1M1424.9 518.1H1434.1M1485.5 494.2V536.2M1480.9 494.2H1490.1M1480.9 536.2H1490.1M1541.5 554.8V586.8M1536.9 554.8H1546.1M1536.9 586.8H1546.1M1597.5 604.5V627.9M1592.9 604.5H1602.1M1592.9 627.9H1602.1M1653.5 607.7V627.7M1648.9 607.7H1658.1M1648.9 627.7H1658.1M1709.5 602.2V633.2M1704.9 602.2H1714.1M1704.9 633.2H1714.1M1765.5 608V630M1760.9 608H1770.1M1760.9 630H1770.1M1821.5 605.9V632.3M1816.9 605.9H1826.1M1816.9 632.3H1826.1M1877.5 601.4V629.4M1872.9 601.4H1882.1M1872.9 629.4H1882.1" stroke="#ff7a0a" stroke-opacity="0.55" stroke-width="1.1" fill="none"/>
<polyline points="1317.6,588.9 1373.61,509 1429.62,500.7 1485.63,515.2 1541.64,570.8 1597.65,616.2 1653.66,617.7 1709.67,617.7 1765.68,619 1821.69,619.1 1877.7,615.4" fill="none" stroke="#ff7a0a" stroke-width="3.0" stroke-linejoin="miter" stroke-miterlimit="3"/>
<path d="M1317.6 582.8L1323.7 588.9L1317.6 595L1311.5 588.9Z" fill="#ff8a1e" stroke="#553010" stroke-width="1.1"/>
<path d="M1373.61 502.9L1379.71 509L1373.61 515.1L1367.51 509Z" fill="#ff8a1e" stroke="#553010" stroke-width="1.1"/>
<path d="M1429.62 494.6L1435.72 500.7L1429.62 506.8L1423.52 500.7Z" fill="#ff8a1e" stroke="#553010" stroke-width="1.1"/>
<path d="M1485.63 509.1L1491.73 515.2L1485.63 521.3L1479.53 515.2Z" fill="#ff8a1e" stroke="#553010" stroke-width="1.1"/>
<path d="M1541.64 564.7L1547.74 570.8L1541.64 576.9L1535.54 570.8Z" fill="#ff8a1e" stroke="#553010" stroke-width="1.1"/>
<path d="M1597.65 610.1L1603.75 616.2L1597.65 622.3L1591.55 616.2Z" fill="#ff8a1e" stroke="#553010" stroke-width="1.1"/>
<path d="M1653.66 611.6L1659.76 617.7L1653.66 623.8L1647.56 617.7Z" fill="#ff8a1e" stroke="#553010" stroke-width="1.1"/>
<path d="M1709.67 611.6L1715.77 617.7L1709.67 623.8L1703.57 617.7Z" fill="#ff8a1e" stroke="#553010" stroke-width="1.1"/>
<path d="M1765.68 612.9L1771.78 619L1765.68 625.1L1759.58 619Z" fill="#ff8a1e" stroke="#553010" stroke-width="1.1"/>
<path d="M1821.69 613L1827.79 619.1L1821.69 625.2L1815.59 619.1Z" fill="#ff8a1e" stroke="#553010" stroke-width="1.1"/>
<path d="M1877.7 609.3L1883.8 615.4L1877.7 621.5L1871.6 615.4Z" fill="#ff8a1e" stroke="#553010" stroke-width="1.1"/>
<path d="M1317.5 571.7V601.7M1312.9 571.7H1322.1M1312.9 601.7H1322.1M1373.5 471.7V508.5M1368.9 471.7H1378.1M1368.9 508.5H1378.1M1429.5 467.2V505.2M1424.9 467.2H1434.1M1424.9 505.2H1434.1M1485.5 474.9V518.9M1480.9 474.9H1490.1M1480.9 518.9H1490.1M1541.5 546.5V586.5M1536.9 546.5H1546.1M1536.9 586.5H1546.1M1597.5 605.7V629.7M1592.9 605.7H1602.1M1592.9 629.7H1602.1M1653.5 602.9V629.5M1648.9 602.9H1658.1M1648.9 629.5H1658.1M1709.5 602.7V631.7M1704.9 602.7H1714.1M1704.9 631.7H1714.1M1765.5 608.7V632.7M1760.9 608.7H1770.1M1760.9 632.7H1770.1M1821.5 606.5V630.5M1816.9 606.5H1826.1M1816.9 630.5H1826.1M1877.5 604.5V628.5M1872.9 604.5H1882.1M1872.9 628.5H1882.1" stroke="#8d3e9f" stroke-opacity="0.55" stroke-width="1.1" fill="none"/>
<polyline points="1317.6,586.7 1373.61,490.1 1429.62,486.2 1485.63,496.9 1541.64,566.5 1597.65,617.7 1653.66,616.2 1709.67,617.2 1765.68,620.7 1821.69,618.5 1877.7,616.5" fill="none" stroke="#8d3e9f" stroke-width="3.0" stroke-linejoin="miter" stroke-miterlimit="3"/>
<path d="M1317.6 580.6L1323.7 586.7L1317.6 592.8L1311.5 586.7Z" fill="#9b4db0" stroke="#3a1a44" stroke-width="1.1"/>
<path d="M1373.61 484L1379.71 490.1L1373.61 496.2L1367.51 490.1Z" fill="#9b4db0" stroke="#3a1a44" stroke-width="1.1"/>
<path d="M1429.62 480.1L1435.72 486.2L1429.62 492.3L1423.52 486.2Z" fill="#9b4db0" stroke="#3a1a44" stroke-width="1.1"/>
<path d="M1485.63 490.8L1491.73 496.9L1485.63 503L1479.53 496.9Z" fill="#9b4db0" stroke="#3a1a44" stroke-width="1.1"/>
<path d="M1541.64 560.4L1547.74 566.5L1541.64 572.6L1535.54 566.5Z" fill="#9b4db0" stroke="#3a1a44" stroke-width="1.1"/>
<path d="M1597.65 611.6L1603.75 617.7L1597.65 623.8L1591.55 617.7Z" fill="#9b4db0" stroke="#3a1a44" stroke-width="1.1"/>
<path d="M1653.66 610.1L1659.76 616.2L1653.66 622.3L1647.56 616.2Z" fill="#9b4db0" stroke="#3a1a44" stroke-width="1.1"/>
<path d="M1709.67 611.1L1715.77 617.2L1709.67 623.3L1703.57 617.2Z" fill="#9b4db0" stroke="#3a1a44" stroke-width="1.1"/>
<path d="M1765.68 614.6L1771.78 620.7L1765.68 626.8L1759.58 620.7Z" fill="#9b4db0" stroke="#3a1a44" stroke-width="1.1"/>
<path d="M1821.69 612.4L1827.79 618.5L1821.69 624.6L1815.59 618.5Z" fill="#9b4db0" stroke="#3a1a44" stroke-width="1.1"/>
<path d="M1877.7 610.4L1883.8 616.5L1877.7 622.6L1871.6 616.5Z" fill="#9b4db0" stroke="#3a1a44" stroke-width="1.1"/>
<path d="M1317.5 558.5V586.5M1312.9 558.5H1322.1M1312.9 586.5H1322.1M1373.5 443.2V476.8M1368.9 443.2H1378.1M1368.9 476.8H1378.1M1429.5 429.2V474.4M1424.9 429.2H1434.1M1424.9 474.4H1434.1M1485.5 461.8V501M1480.9 461.8H1490.1M1480.9 501H1490.1M1541.5 545.7V583.7M1536.9 545.7H1546.1M1536.9 583.7H1546.1M1597.5 594.4V628M1592.9 594.4H1602.1M1592.9 628H1602.1M1653.5 610.7V632.7M1648.9 610.7H1658.1M1648.9 632.7H1658.1M1709.5 596V631.6M1704.9 596H1714.1M1704.9 631.6H1714.1M1765.5 603V633M1760.9 603H1770.1M1760.9 633H1770.1M1821.5 605V629M1816.9 605H1826.1M1816.9 629H1826.1M1877.5 600.8V626.8M1872.9 600.8H1882.1M1872.9 626.8H1882.1" stroke="#38a038" stroke-opacity="0.55" stroke-width="1.1" fill="none"/>
<polyline points="1317.6,572.5 1373.61,460 1429.62,451.8 1485.63,481.4 1541.64,564.7 1597.65,611.2 1653.66,621.7 1709.67,613.8 1765.68,618 1821.69,617 1877.7,613.8" fill="none" stroke="#38a038" stroke-width="3.0" stroke-linejoin="miter" stroke-miterlimit="3"/>
<path d="M1317.6 566.4L1323.7 572.5L1317.6 578.6L1311.5 572.5Z" fill="#4cae4c" stroke="#1d4a1d" stroke-width="1.1"/>
<path d="M1373.61 453.9L1379.71 460L1373.61 466.1L1367.51 460Z" fill="#4cae4c" stroke="#1d4a1d" stroke-width="1.1"/>
<path d="M1429.62 445.7L1435.72 451.8L1429.62 457.9L1423.52 451.8Z" fill="#4cae4c" stroke="#1d4a1d" stroke-width="1.1"/>
<path d="M1485.63 475.3L1491.73 481.4L1485.63 487.5L1479.53 481.4Z" fill="#4cae4c" stroke="#1d4a1d" stroke-width="1.1"/>
<path d="M1541.64 558.6L1547.74 564.7L1541.64 570.8L1535.54 564.7Z" fill="#4cae4c" stroke="#1d4a1d" stroke-width="1.1"/>
<path d="M1597.65 605.1L1603.75 611.2L1597.65 617.3L1591.55 611.2Z" fill="#4cae4c" stroke="#1d4a1d" stroke-width="1.1"/>
<path d="M1653.66 615.6L1659.76 621.7L1653.66 627.8L1647.56 621.7Z" fill="#4cae4c" stroke="#1d4a1d" stroke-width="1.1"/>
<path d="M1709.67 607.7L1715.77 613.8L1709.67 619.9L1703.57 613.8Z" fill="#4cae4c" stroke="#1d4a1d" stroke-width="1.1"/>
<path d="M1765.68 611.9L1771.78 618L1765.68 624.1L1759.58 618Z" fill="#4cae4c" stroke="#1d4a1d" stroke-width="1.1"/>
<path d="M1821.69 610.9L1827.79 617L1821.69 623.1L1815.59 617Z" fill="#4cae4c" stroke="#1d4a1d" stroke-width="1.1"/>
<path d="M1877.7 607.7L1883.8 613.8L1877.7 619.9L1871.6 613.8Z" fill="#4cae4c" stroke="#1d4a1d" stroke-width="1.1"/>
<path d="M1317.5 531.1V573.1M1312.9 531.1H1322.1M1312.9 573.1H1322.1M1373.5 357.8V412.4M1368.9 357.8H1378.1M1368.9 412.4H1378.1M1429.5 319.6V371M1424.9 319.6H1434.1M1424.9 371H1434.1M1485.5 450.3V499.7M1480.9 450.3H1490.1M1480.9 499.7H1490.1M1541.5 540.1V574.9M1536.9 540.1H1546.1M1536.9 574.9H1546.1M1597.5 598.4V632.4M1592.9 598.4H1602.1M1592.9 632.4H1602.1M1653.5 607.7V629.7M1648.9 607.7H1658.1M1648.9 629.7H1658.1M1709.5 609.3V630.3M1704.9 609.3H1714.1M1704.9 630.3H1714.1M1765.5 597.4V631.4M1760.9 597.4H1770.1M1760.9 631.4H1770.1M1821.5 601.3V633.3M1816.9 601.3H1826.1M1816.9 633.3H1826.1M1877.5 603.6V633.6M1872.9 603.6H1882.1M1872.9 633.6H1882.1" stroke="#2b6fb0" stroke-opacity="0.55" stroke-width="1.1" fill="none"/>
<polyline points="1317.6,552.1 1373.61,385.1 1429.62,345.3 1485.63,475 1541.64,557.5 1597.65,615.4 1653.66,618.7 1709.67,619.8 1765.68,614.4 1821.69,617.3 1877.7,618.6" fill="none" stroke="#2b6fb0" stroke-width="3.0" stroke-linejoin="miter" stroke-miterlimit="3"/>
<path d="M1317.6 546L1323.7 552.1L1317.6 558.2L1311.5 552.1Z" fill="#3a80c6" stroke="#1b3550" stroke-width="1.1"/>
<path d="M1373.61 379L1379.71 385.1L1373.61 391.2L1367.51 385.1Z" fill="#3a80c6" stroke="#1b3550" stroke-width="1.1"/>
<path d="M1429.62 339.2L1435.72 345.3L1429.62 351.4L1423.52 345.3Z" fill="#3a80c6" stroke="#1b3550" stroke-width="1.1"/>
<path d="M1485.63 468.9L1491.73 475L1485.63 481.1L1479.53 475Z" fill="#3a80c6" stroke="#1b3550" stroke-width="1.1"/>
<path d="M1541.64 551.4L1547.74 557.5L1541.64 563.6L1535.54 557.5Z" fill="#3a80c6" stroke="#1b3550" stroke-width="1.1"/>
<path d="M1597.65 609.3L1603.75 615.4L1597.65 621.5L1591.55 615.4Z" fill="#3a80c6" stroke="#1b3550" stroke-width="1.1"/>
<path d="M1653.66 612.6L1659.76 618.7L1653.66 624.8L1647.56 618.7Z" fill="#3a80c6" stroke="#1b3550" stroke-width="1.1"/>
<path d="M1709.67 613.7L1715.77 619.8L1709.67 625.9L1703.57 619.8Z" fill="#3a80c6" stroke="#1b3550" stroke-width="1.1"/>
<path d="M1765.68 608.3L1771.78 614.4L1765.68 620.5L1759.58 614.4Z" fill="#3a80c6" stroke="#1b3550" stroke-width="1.1"/>
<path d="M1821.69 611.2L1827.79 617.3L1821.69 623.4L1815.59 617.3Z" fill="#3a80c6" stroke="#1b3550" stroke-width="1.1"/>
<path d="M1877.7 612.5L1883.8 618.6L1877.7 624.7L1871.6 618.6Z" fill="#3a80c6" stroke="#1b3550" stroke-width="1.1"/>
</g>
<path d="M1423.9 370L1423.9 356.8" stroke="#000" stroke-width="2.4" fill="none"/><path d="M1423.9 352.8L1428.7 361L1423.9 359.8L1419.1 361Z" fill="#000"/>
<path d="M1432.7 477.5L1432.7 464.3" stroke="#000" stroke-width="2.4" fill="none"/><path d="M1432.7 460.3L1437.5 468.5L1432.7 467.3L1427.9 468.5Z" fill="#000"/>
<path d="M1424 505.4L1424 491.9" stroke="#000" stroke-width="2.4" fill="none"/><path d="M1424 487.9L1428.8 496.1L1424 494.9L1419.2 496.1Z" fill="#000"/>
<path d="M1429.1 524L1429.1 510.8" stroke="#000" stroke-width="2.4" fill="none"/><path d="M1429.1 506.8L1433.9 515L1429.1 513.8L1424.3 515Z" fill="#000"/>
<rect x="1317.6" y="74" width="560.1" height="558.9" fill="none" stroke="#333333" stroke-width="1.3"/>
<path d="M1340 632.9v-3.2M1340 74v3.2M1362.41 632.9v-3.2M1362.41 74v3.2M1384.81 632.9v-3.2M1384.81 74v3.2M1407.22 632.9v-3.2M1407.22 74v3.2M1429.62 632.9v-5.5M1429.62 74v5.5M1452.02 632.9v-3.2M1452.02 74v3.2M1474.43 632.9v-3.2M1474.43 74v3.2M1496.83 632.9v-3.2M1496.83 74v3.2M1519.24 632.9v-3.2M1519.24 74v3.2M1541.64 632.9v-5.5M1541.64 74v5.5M1564.04 632.9v-3.2M1564.04 74v3.2M1586.45 632.9v-3.2M1586.45 74v3.2M1608.85 632.9v-3.2M1608.85 74v3.2M1631.26 632.9v-3.2M1631.26 74v3.2M1653.66 632.9v-5.5M1653.66 74v5.5M1676.06 632.9v-3.2M1676.06 74v3.2M1698.47 632.9v-3.2M1698.47 74v3.2M1720.87 632.9v-3.2M1720.87 74v3.2M1743.28 632.9v-3.2M1743.28 74v3.2M1765.68 632.9v-5.5M1765.68 74v5.5M1788.08 632.9v-3.2M1788.08 74v3.2M1810.49 632.9v-3.2M1810.49 74v3.2M1832.89 632.9v-3.2M1832.89 74v3.2M1855.3 632.9v-3.2M1855.3 74v3.2M1317.6 624.2h5.5M1877.7 624.2h-5.5M1317.6 596.7h3.2M1877.7 596.7h-3.2M1317.6 569.2h3.2M1877.7 569.2h-3.2M1317.6 541.7h3.2M1877.7 541.7h-3.2M1317.6 514.2h3.2M1877.7 514.2h-3.2M1317.6 486.7h5.5M1877.7 486.7h-5.5M1317.6 459.2h3.2M1877.7 459.2h-3.2M1317.6 431.7h3.2M1877.7 431.7h-3.2M1317.6 404.2h3.2M1877.7 404.2h-3.2M1317.6 376.7h3.2M1877.7 376.7h-3.2M1317.6 349.2h5.5M1877.7 349.2h-5.5M1317.6 321.7h3.2M1877.7 321.7h-3.2M1317.6 294.2h3.2M1877.7 294.2h-3.2M1317.6 266.7h3.2M1877.7 266.7h-3.2M1317.6 239.2h3.2M1877.7 239.2h-3.2M1317.6 211.7h5.5M1877.7 211.7h-5.5M1317.6 184.2h3.2M1877.7 184.2h-3.2M1317.6 156.7h3.2M1877.7 156.7h-3.2M1317.6 129.2h3.2M1877.7 129.2h-3.2M1317.6 101.7h3.2M1877.7 101.7h-3.2" stroke="#333333" stroke-width="1.2" fill="none"/>
<text class="t" transform="translate(1317.6 656.5) scale(1 1.04)" font-size="18.5" text-anchor="middle">0</text>
<text class="t" transform="translate(1429.62 656.5) scale(1 1.04)" font-size="18.5" text-anchor="middle">0.1</text>
<text class="t" transform="translate(1541.64 656.5) scale(1 1.04)" font-size="18.5" text-anchor="middle">0.2</text>
<text class="t" transform="translate(1653.66 656.5) scale(1 1.04)" font-size="18.5" text-anchor="middle">0.3</text>
<text class="t" transform="translate(1765.68 656.5) scale(1 1.04)" font-size="18.5" text-anchor="middle">0.4</text>
<text class="t" transform="translate(1877.7 656.5) scale(1 1.04)" font-size="18.5" text-anchor="middle">0.5</text>
<text class="t" transform="translate(1312 630.8) scale(1 1.04)" font-size="18.5" text-anchor="end">0</text>
<text class="t" transform="translate(1312 493.3) scale(1 1.04)" font-size="18.5" text-anchor="end">5</text>
<text class="t" transform="translate(1312 355.8) scale(1 1.04)" font-size="18.5" text-anchor="end">10</text>
<text class="t" transform="translate(1312 218.3) scale(1 1.04)" font-size="18.5" text-anchor="end">15</text>
<text class="t" transform="translate(1312 80.8) scale(1 1.04)" font-size="18.5" text-anchor="end">20</text>
<path d="M1728.8 114V131.2M1724.1 114H1733.5M1724.1 131.2H1733.5" stroke="#84aad0" stroke-width="1" fill="none"/>
<path d="M1703.1 122.6H1754.7" stroke="#2b6fb0" stroke-width="3.0"/>
<path d="M1728.8 116.5L1734.9 122.6L1728.8 128.7L1722.7 122.6Z" fill="#3a80c6" stroke="#1b3550" stroke-width="1.1"/>
<text class="s" x="1776.4" y="129.8" font-size="18.5">G'=0.0005</text>
<path d="M1728.8 135.2V152.4M1724.1 135.2H1733.5M1724.1 152.4H1733.5" stroke="#a0c9a0" stroke-width="1" fill="none"/>
<path d="M1703.1 143.8H1754.7" stroke="#38a038" stroke-width="3.0"/>
<path d="M1728.8 137.7L1734.9 143.8L1728.8 149.9L1722.7 143.8Z" fill="#4cae4c" stroke="#1d4a1d" stroke-width="1.1"/>
<text class="s" x="1776.4" y="151" font-size="18.5">G'=0.001</text>
<path d="M1728.8 156.4V173.6M1724.1 156.4H1733.5M1724.1 173.6H1733.5" stroke="#c49dcf" stroke-width="1" fill="none"/>
<path d="M1703.1 165H1754.7" stroke="#8d3e9f" stroke-width="3.0"/>
<path d="M1728.8 158.9L1734.9 165L1728.8 171.1L1722.7 165Z" fill="#9b4db0" stroke="#3a1a44" stroke-width="1.1"/>
<text class="s" x="1776.4" y="172.2" font-size="18.5">G'=0.0015</text>
<path d="M1728.8 177.6V194.8M1724.1 177.6H1733.5M1724.1 194.8H1733.5" stroke="#f8bb82" stroke-width="1" fill="none"/>
<path d="M1703.1 186.2H1754.7" stroke="#ff7a0a" stroke-width="3.0"/>
<path d="M1728.8 180.1L1734.9 186.2L1728.8 192.3L1722.7 186.2Z" fill="#ff8a1e" stroke="#553010" stroke-width="1.1"/>
<text class="s" x="1776.4" y="193.4" font-size="18.5">G'=0.002</text>
<text class="t" transform="translate(1716.5 225.1) scale(1 1.04)" font-size="16.5">Max</text>
<path d="M1778.9 219.2H1813.8" stroke="#000" stroke-width="1.6"/>
<path d="M1817.8 219.2L1809.4 214.7L1811.6 219.2L1809.4 223.7Z" fill="#000"/>
<g clip-path="url(#cld)">
<path d="M92.5 1231.2V1259.2M87.9 1231.2H97.1M87.9 1259.2H97.1M148.5 1145.8V1182.2M143.9 1145.8H153.1M143.9 1182.2H153.1M204.5 1123.6V1158.4M199.9 1123.6H209.1M199.9 1158.4H209.1M260.5 1119.8V1154.6M255.9 1119.8H265.1M255.9 1154.6H265.1M316.5 1114.4V1154M311.9 1114.4H321.1M311.9 1154H321.1M372.5 1126.4V1169.2M367.9 1126.4H377.1M367.9 1169.2H377.1M428.5 1142V1174.4M423.9 1142H433.1M423.9 1174.4H433.1M484.5 1133.5V1186.3M479.9 1133.5H489.1M479.9 1186.3H489.1M540.5 1162.2V1195.6M535.9 1162.2H545.1M535.9 1195.6H545.1M596.5 1167.3V1203.3M591.9 1167.3H601.1M591.9 1203.3H601.1M652.5 1180.8V1224.8M647.9 1180.8H657.1M647.9 1224.8H657.1" stroke="#ff7a0a" stroke-opacity="0.55" stroke-width="1.1" fill="none"/>
<polyline points="92.7,1245.2 148.66,1164 204.62,1141 260.58,1137.2 316.54,1134.2 372.5,1147.8 428.46,1158.2 484.42,1159.9 540.38,1178.9 596.34,1185.3 652.3,1202.8" fill="none" stroke="#ff7a0a" stroke-width="3.0" stroke-linejoin="miter" stroke-miterlimit="3"/>
<path d="M92.7 1239.1L98.8 1245.2L92.7 1251.3L86.6 1245.2Z" fill="#ff8a1e" stroke="#553010" stroke-width="1.1"/>
<path d="M148.66 1157.9L154.76 1164L148.66 1170.1L142.56 1164Z" fill="#ff8a1e" stroke="#553010" stroke-width="1.1"/>
<path d="M204.62 1134.9L210.72 1141L204.62 1147.1L198.52 1141Z" fill="#ff8a1e" stroke="#553010" stroke-width="1.1"/>
<path d="M260.58 1131.1L266.68 1137.2L260.58 1143.3L254.48 1137.2Z" fill="#ff8a1e" stroke="#553010" stroke-width="1.1"/>
<path d="M316.54 1128.1L322.64 1134.2L316.54 1140.3L310.44 1134.2Z" fill="#ff8a1e" stroke="#553010" stroke-width="1.1"/>
<path d="M372.5 1141.7L378.6 1147.8L372.5 1153.9L366.4 1147.8Z" fill="#ff8a1e" stroke="#553010" stroke-width="1.1"/>
<path d="M428.46 1152.1L434.56 1158.2L428.46 1164.3L422.36 1158.2Z" fill="#ff8a1e" stroke="#553010" stroke-width="1.1"/>
<path d="M484.42 1153.8L490.52 1159.9L484.42 1166L478.32 1159.9Z" fill="#ff8a1e" stroke="#553010" stroke-width="1.1"/>
<path d="M540.38 1172.8L546.48 1178.9L540.38 1185L534.28 1178.9Z" fill="#ff8a1e" stroke="#553010" stroke-width="1.1"/>
<path d="M596.34 1179.2L602.44 1185.3L596.34 1191.4L590.24 1185.3Z" fill="#ff8a1e" stroke="#553010" stroke-width="1.1"/>
<path d="M652.3 1196.7L658.4 1202.8L652.3 1208.9L646.2 1202.8Z" fill="#ff8a1e" stroke="#553010" stroke-width="1.1"/>
<path d="M92.5 1242.4V1262.4M87.9 1242.4H97.1M87.9 1262.4H97.1M148.5 1125.3V1168.7M143.9 1125.3H153.1M143.9 1168.7H153.1M204.5 1117.2V1148.6M199.9 1117.2H209.1M199.9 1148.6H209.1M260.5 1107.8V1147.4M255.9 1107.8H265.1M255.9 1147.4H265.1M316.5 1109.8V1148.4M311.9 1109.8H321.1M311.9 1148.4H321.1M372.5 1108V1156M367.9 1108H377.1M367.9 1156H377.1M428.5 1124.3V1165.5M423.9 1124.3H433.1M423.9 1165.5H433.1M484.5 1141.6V1185.6M479.9 1141.6H489.1M479.9 1185.6H489.1M540.5 1146.5V1187.3M535.9 1146.5H545.1M535.9 1187.3H545.1M596.5 1167V1205M591.9 1167H601.1M591.9 1205H601.1M652.5 1182.3V1212.3M647.9 1182.3H657.1M647.9 1212.3H657.1" stroke="#8d3e9f" stroke-opacity="0.55" stroke-width="1.1" fill="none"/>
<polyline points="92.7,1252.4 148.66,1147 204.62,1132.9 260.58,1127.6 316.54,1129.1 372.5,1132 428.46,1144.9 484.42,1163.6 540.38,1166.9 596.34,1186 652.3,1197.3" fill="none" stroke="#8d3e9f" stroke-width="3.0" stroke-linejoin="miter" stroke-miterlimit="3"/>
<path d="M92.7 1246.3L98.8 1252.4L92.7 1258.5L86.6 1252.4Z" fill="#9b4db0" stroke="#3a1a44" stroke-width="1.1"/>
<path d="M148.66 1140.9L154.76 1147L148.66 1153.1L142.56 1147Z" fill="#9b4db0" stroke="#3a1a44" stroke-width="1.1"/>
<path d="M204.62 1126.8L210.72 1132.9L204.62 1139L198.52 1132.9Z" fill="#9b4db0" stroke="#3a1a44" stroke-width="1.1"/>
<path d="M260.58 1121.5L266.68 1127.6L260.58 1133.7L254.48 1127.6Z" fill="#9b4db0" stroke="#3a1a44" stroke-width="1.1"/>
<path d="M316.54 1123L322.64 1129.1L316.54 1135.2L310.44 1129.1Z" fill="#9b4db0" stroke="#3a1a44" stroke-width="1.1"/>
<path d="M372.5 1125.9L378.6 1132L372.5 1138.1L366.4 1132Z" fill="#9b4db0" stroke="#3a1a44" stroke-width="1.1"/>
<path d="M428.46 1138.8L434.56 1144.9L428.46 1151L422.36 1144.9Z" fill="#9b4db0" stroke="#3a1a44" stroke-width="1.1"/>
<path d="M484.42 1157.5L490.52 1163.6L484.42 1169.7L478.32 1163.6Z" fill="#9b4db0" stroke="#3a1a44" stroke-width="1.1"/>
<path d="M540.38 1160.8L546.48 1166.9L540.38 1173L534.28 1166.9Z" fill="#9b4db0" stroke="#3a1a44" stroke-width="1.1"/>
<path d="M596.34 1179.9L602.44 1186L596.34 1192.1L590.24 1186Z" fill="#9b4db0" stroke="#3a1a44" stroke-width="1.1"/>
<path d="M652.3 1191.2L658.4 1197.3L652.3 1203.4L646.2 1197.3Z" fill="#9b4db0" stroke="#3a1a44" stroke-width="1.1"/>
<path d="M92.5 1218.9V1246.9M87.9 1218.9H97.1M87.9 1246.9H97.1M148.5 1115.3V1150.5M143.9 1115.3H153.1M143.9 1150.5H153.1M204.5 1078.4V1124.4M199.9 1078.4H209.1M199.9 1124.4H209.1M260.5 1094.2V1123.6M255.9 1094.2H265.1M255.9 1123.6H265.1M316.5 1096.9V1120.9M311.9 1096.9H321.1M311.9 1120.9H321.1M372.5 1094.5V1132.5M367.9 1094.5H377.1M367.9 1132.5H377.1M428.5 1108.2V1156.2M423.9 1108.2H433.1M423.9 1156.2H433.1M484.5 1127.9V1165.9M479.9 1127.9H489.1M479.9 1165.9H489.1M540.5 1144.1V1178.1M535.9 1144.1H545.1M535.9 1178.1H545.1M596.5 1166.1V1206.1M591.9 1166.1H601.1M591.9 1206.1H601.1M652.5 1186.1V1216.1M647.9 1186.1H657.1M647.9 1216.1H657.1" stroke="#38a038" stroke-opacity="0.55" stroke-width="1.1" fill="none"/>
<polyline points="92.7,1232.9 148.66,1132.9 204.62,1101.4 260.58,1108.9 316.54,1108.9 372.5,1113.5 428.46,1132.2 484.42,1146.9 540.38,1161.1 596.34,1186.1 652.3,1201.1" fill="none" stroke="#38a038" stroke-width="3.0" stroke-linejoin="miter" stroke-miterlimit="3"/>
<path d="M92.7 1226.8L98.8 1232.9L92.7 1239L86.6 1232.9Z" fill="#4cae4c" stroke="#1d4a1d" stroke-width="1.1"/>
<path d="M148.66 1126.8L154.76 1132.9L148.66 1139L142.56 1132.9Z" fill="#4cae4c" stroke="#1d4a1d" stroke-width="1.1"/>
<path d="M204.62 1095.3L210.72 1101.4L204.62 1107.5L198.52 1101.4Z" fill="#4cae4c" stroke="#1d4a1d" stroke-width="1.1"/>
<path d="M260.58 1102.8L266.68 1108.9L260.58 1115L254.48 1108.9Z" fill="#4cae4c" stroke="#1d4a1d" stroke-width="1.1"/>
<path d="M316.54 1102.8L322.64 1108.9L316.54 1115L310.44 1108.9Z" fill="#4cae4c" stroke="#1d4a1d" stroke-width="1.1"/>
<path d="M372.5 1107.4L378.6 1113.5L372.5 1119.6L366.4 1113.5Z" fill="#4cae4c" stroke="#1d4a1d" stroke-width="1.1"/>
<path d="M428.46 1126.1L434.56 1132.2L428.46 1138.3L422.36 1132.2Z" fill="#4cae4c" stroke="#1d4a1d" stroke-width="1.1"/>
<path d="M484.42 1140.8L490.52 1146.9L484.42 1153L478.32 1146.9Z" fill="#4cae4c" stroke="#1d4a1d" stroke-width="1.1"/>
<path d="M540.38 1155L546.48 1161.1L540.38 1167.2L534.28 1161.1Z" fill="#4cae4c" stroke="#1d4a1d" stroke-width="1.1"/>
<path d="M596.34 1180L602.44 1186.1L596.34 1192.2L590.24 1186.1Z" fill="#4cae4c" stroke="#1d4a1d" stroke-width="1.1"/>
<path d="M652.3 1195L658.4 1201.1L652.3 1207.2L646.2 1201.1Z" fill="#4cae4c" stroke="#1d4a1d" stroke-width="1.1"/>
<path d="M92.5 1188.6V1233.8M87.9 1188.6H97.1M87.9 1233.8H97.1M148.5 1067.1V1109.1M143.9 1067.1H153.1M143.9 1109.1H153.1M204.5 1052.2V1088.2M199.9 1052.2H209.1M199.9 1088.2H209.1M260.5 1053.4V1102.8M255.9 1053.4H265.1M255.9 1102.8H265.1M316.5 1061.7V1110.9M311.9 1061.7H321.1M311.9 1110.9H321.1M372.5 1077.1V1125.1M367.9 1077.1H377.1M367.9 1125.1H377.1M428.5 1096V1142M423.9 1096H433.1M423.9 1142H433.1M484.5 1116.5V1166.5M479.9 1116.5H489.1M479.9 1166.5H489.1M540.5 1146.9V1183.5M535.9 1146.9H545.1M535.9 1183.5H545.1M596.5 1163.9V1200.9M591.9 1163.9H601.1M591.9 1200.9H601.1M652.5 1185.3V1225.3M647.9 1185.3H657.1M647.9 1225.3H657.1" stroke="#2b6fb0" stroke-opacity="0.55" stroke-width="1.1" fill="none"/>
<polyline points="92.7,1211.2 148.66,1088.1 204.62,1070.2 260.58,1078.1 316.54,1086.3 372.5,1101.1 428.46,1119 484.42,1141.5 540.38,1165.2 596.34,1182.4 652.3,1205.3" fill="none" stroke="#2b6fb0" stroke-width="3.0" stroke-linejoin="miter" stroke-miterlimit="3"/>
<path d="M92.7 1205.1L98.8 1211.2L92.7 1217.3L86.6 1211.2Z" fill="#3a80c6" stroke="#1b3550" stroke-width="1.1"/>
<path d="M148.66 1082L154.76 1088.1L148.66 1094.2L142.56 1088.1Z" fill="#3a80c6" stroke="#1b3550" stroke-width="1.1"/>
<path d="M204.62 1064.1L210.72 1070.2L204.62 1076.3L198.52 1070.2Z" fill="#3a80c6" stroke="#1b3550" stroke-width="1.1"/>
<path d="M260.58 1072L266.68 1078.1L260.58 1084.2L254.48 1078.1Z" fill="#3a80c6" stroke="#1b3550" stroke-width="1.1"/>
<path d="M316.54 1080.2L322.64 1086.3L316.54 1092.4L310.44 1086.3Z" fill="#3a80c6" stroke="#1b3550" stroke-width="1.1"/>
<path d="M372.5 1095L378.6 1101.1L372.5 1107.2L366.4 1101.1Z" fill="#3a80c6" stroke="#1b3550" stroke-width="1.1"/>
<path d="M428.46 1112.9L434.56 1119L428.46 1125.1L422.36 1119Z" fill="#3a80c6" stroke="#1b3550" stroke-width="1.1"/>
<path d="M484.42 1135.4L490.52 1141.5L484.42 1147.6L478.32 1141.5Z" fill="#3a80c6" stroke="#1b3550" stroke-width="1.1"/>
<path d="M540.38 1159.1L546.48 1165.2L540.38 1171.3L534.28 1165.2Z" fill="#3a80c6" stroke="#1b3550" stroke-width="1.1"/>
<path d="M596.34 1176.3L602.44 1182.4L596.34 1188.5L590.24 1182.4Z" fill="#3a80c6" stroke="#1b3550" stroke-width="1.1"/>
<path d="M652.3 1199.2L658.4 1205.3L652.3 1211.4L646.2 1205.3Z" fill="#3a80c6" stroke="#1b3550" stroke-width="1.1"/>
</g>
<path d="M200.2 1091.9L200.2 1077.8" stroke="#000" stroke-width="2.4" fill="none"/><path d="M200.2 1073.8L205 1082L200.2 1080.8L195.4 1082Z" fill="#000"/>
<path d="M208.7 1123.4L208.7 1110.5" stroke="#000" stroke-width="2.4" fill="none"/><path d="M208.7 1106.5L213.5 1114.7L208.7 1113.5L203.9 1114.7Z" fill="#000"/>
<path d="M253.6 1147L253.6 1133.1" stroke="#000" stroke-width="2.4" fill="none"/><path d="M253.6 1129.1L258.4 1137.3L253.6 1136.1L248.8 1137.3Z" fill="#000"/>
<path d="M311.5 1156.5L311.5 1143.1" stroke="#000" stroke-width="2.4" fill="none"/><path d="M311.5 1139.1L316.3 1147.3L311.5 1146.1L306.7 1147.3Z" fill="#000"/>
<rect x="92.7" y="726.4" width="559.6" height="558" fill="none" stroke="#333333" stroke-width="1.3"/>
<path d="M115.08 1284.4v-3.2M115.08 726.4v3.2M137.47 1284.4v-3.2M137.47 726.4v3.2M159.85 1284.4v-3.2M159.85 726.4v3.2M182.24 1284.4v-3.2M182.24 726.4v3.2M204.62 1284.4v-5.5M204.62 726.4v5.5M227 1284.4v-3.2M227 726.4v3.2M249.39 1284.4v-3.2M249.39 726.4v3.2M271.77 1284.4v-3.2M271.77 726.4v3.2M294.16 1284.4v-3.2M294.16 726.4v3.2M316.54 1284.4v-5.5M316.54 726.4v5.5M338.92 1284.4v-3.2M338.92 726.4v3.2M361.31 1284.4v-3.2M361.31 726.4v3.2M383.69 1284.4v-3.2M383.69 726.4v3.2M406.08 1284.4v-3.2M406.08 726.4v3.2M428.46 1284.4v-5.5M428.46 726.4v5.5M450.84 1284.4v-3.2M450.84 726.4v3.2M473.23 1284.4v-3.2M473.23 726.4v3.2M495.61 1284.4v-3.2M495.61 726.4v3.2M518 1284.4v-3.2M518 726.4v3.2M540.38 1284.4v-5.5M540.38 726.4v5.5M562.76 1284.4v-3.2M562.76 726.4v3.2M585.15 1284.4v-3.2M585.15 726.4v3.2M607.53 1284.4v-3.2M607.53 726.4v3.2M629.92 1284.4v-3.2M629.92 726.4v3.2M92.7 1256.5h3.2M652.3 1256.5h-3.2M92.7 1228.6h3.2M652.3 1228.6h-3.2M92.7 1200.7h3.2M652.3 1200.7h-3.2M92.7 1172.8h3.2M652.3 1172.8h-3.2M92.7 1144.9h5.5M652.3 1144.9h-5.5M92.7 1117h3.2M652.3 1117h-3.2M92.7 1089.1h3.2M652.3 1089.1h-3.2M92.7 1061.2h3.2M652.3 1061.2h-3.2M92.7 1033.3h3.2M652.3 1033.3h-3.2M92.7 1005.4h5.5M652.3 1005.4h-5.5M92.7 977.5h3.2M652.3 977.5h-3.2M92.7 949.6h3.2M652.3 949.6h-3.2M92.7 921.7h3.2M652.3 921.7h-3.2M92.7 893.8h3.2M652.3 893.8h-3.2M92.7 865.9h5.5M652.3 865.9h-5.5M92.7 838h3.2M652.3 838h-3.2M92.7 810.1h3.2M652.3 810.1h-3.2M92.7 782.2h3.2M652.3 782.2h-3.2M92.7 754.3h3.2M652.3 754.3h-3.2" stroke="#333333" stroke-width="1.2" fill="none"/>
<text class="t" transform="translate(92.7 1308) scale(1 1.04)" font-size="18.5" text-anchor="middle">0</text>
<text class="t" transform="translate(204.62 1308) scale(1 1.04)" font-size="18.5" text-anchor="middle">0.1</text>
<text class="t" transform="translate(316.54 1308) scale(1 1.04)" font-size="18.5" text-anchor="middle">0.2</text>
<text class="t" transform="translate(428.46 1308) scale(1 1.04)" font-size="18.5" text-anchor="middle">0.3</text>
<text class="t" transform="translate(540.38 1308) scale(1 1.04)" font-size="18.5" text-anchor="middle">0.4</text>
<text class="t" transform="translate(652.3 1308) scale(1 1.04)" font-size="18.5" text-anchor="middle">0.5</text>
<text class="t" transform="translate(87.1 1291) scale(1 1.04)" font-size="18.5" text-anchor="end">0</text>
<text class="t" transform="translate(87.1 1151.5) scale(1 1.04)" font-size="18.5" text-anchor="end">5</text>
<text class="t" transform="translate(87.1 1012) scale(1 1.04)" font-size="18.5" text-anchor="end">10</text>
<text class="t" transform="translate(87.1 872.5) scale(1 1.04)" font-size="18.5" text-anchor="end">15</text>
<text class="t" transform="translate(87.1 733) scale(1 1.04)" font-size="18.5" text-anchor="end">20</text>
<path d="M503.4 766.4V783.6M498.7 766.4H508.1M498.7 783.6H508.1" stroke="#84aad0" stroke-width="1" fill="none"/>
<path d="M477.7 775H529.3" stroke="#2b6fb0" stroke-width="3.0"/>
<path d="M503.4 768.9L509.5 775L503.4 781.1L497.3 775Z" fill="#3a80c6" stroke="#1b3550" stroke-width="1.1"/>
<text class="s" x="551" y="782.2" font-size="18.5">G'=0.0005</text>
<path d="M503.4 787.6V804.8M498.7 787.6H508.1M498.7 804.8H508.1" stroke="#a0c9a0" stroke-width="1" fill="none"/>
<path d="M477.7 796.2H529.3" stroke="#38a038" stroke-width="3.0"/>
<path d="M503.4 790.1L509.5 796.2L503.4 802.3L497.3 796.2Z" fill="#4cae4c" stroke="#1d4a1d" stroke-width="1.1"/>
<text class="s" x="551" y="803.4" font-size="18.5">G'=0.001</text>
<path d="M503.4 808.8V826M498.7 808.8H508.1M498.7 826H508.1" stroke="#c49dcf" stroke-width="1" fill="none"/>
<path d="M477.7 817.4H529.3" stroke="#8d3e9f" stroke-width="3.0"/>
<path d="M503.4 811.3L509.5 817.4L503.4 823.5L497.3 817.4Z" fill="#9b4db0" stroke="#3a1a44" stroke-width="1.1"/>
<text class="s" x="551" y="824.6" font-size="18.5">G'=0.0015</text>
<path d="M503.4 830V847.2M498.7 830H508.1M498.7 847.2H508.1" stroke="#f8bb82" stroke-width="1" fill="none"/>
<path d="M477.7 838.6H529.3" stroke="#ff7a0a" stroke-width="3.0"/>
<path d="M503.4 832.5L509.5 838.6L503.4 844.7L497.3 838.6Z" fill="#ff8a1e" stroke="#553010" stroke-width="1.1"/>
<text class="s" x="551" y="845.8" font-size="18.5">G'=0.002</text>
<text class="t" transform="translate(491.1 877.5) scale(1 1.04)" font-size="16.5">Max</text>
<path d="M553.5 871.6H588.4" stroke="#000" stroke-width="1.6"/>
<path d="M592.4 871.6L584 867.1L586.2 871.6L584 876.1Z" fill="#000"/>
<g clip-path="url(#cle)">
<path d="M708.5 1222.8V1246.8M703.9 1222.8H713.1M703.9 1246.8H713.1M764.5 1144.8V1172M759.9 1144.8H769.1M759.9 1172H769.1M820.5 1130V1157.4M815.9 1130H825.1M815.9 1157.4H825.1M876.5 1118.4V1164.4M871.9 1118.4H881.1M871.9 1164.4H881.1M932.5 1137.1V1173.9M927.9 1137.1H937.1M927.9 1173.9H937.1M988.5 1150.2V1181.2M983.9 1150.2H993.1M983.9 1181.2H993.1M1044.5 1171.5V1209.5M1039.9 1171.5H1049.1M1039.9 1209.5H1049.1M1100.5 1204.2V1228.2M1095.9 1204.2H1105.1M1095.9 1228.2H1105.1M1156.5 1226V1254M1151.9 1226H1161.1M1151.9 1254H1161.1M1212.5 1251V1279M1207.9 1251H1217.1M1207.9 1279H1217.1M1268.5 1253.2V1283.2M1263.9 1253.2H1273.1M1263.9 1283.2H1273.1" stroke="#ff7a0a" stroke-opacity="0.55" stroke-width="1.1" fill="none"/>
<polyline points="708,1234.8 764.02,1158.4 820.04,1143.7 876.06,1141.4 932.08,1155.5 988.1,1165.7 1044.12,1190.5 1100.14,1216.2 1156.16,1240 1212.18,1265 1268.2,1268.2" fill="none" stroke="#ff7a0a" stroke-width="3.0" stroke-linejoin="miter" stroke-miterlimit="3"/>
<path d="M708 1228.7L714.1 1234.8L708 1240.9L701.9 1234.8Z" fill="#ff8a1e" stroke="#553010" stroke-width="1.1"/>
<path d="M764.02 1152.3L770.12 1158.4L764.02 1164.5L757.92 1158.4Z" fill="#ff8a1e" stroke="#553010" stroke-width="1.1"/>
<path d="M820.04 1137.6L826.14 1143.7L820.04 1149.8L813.94 1143.7Z" fill="#ff8a1e" stroke="#553010" stroke-width="1.1"/>
<path d="M876.06 1135.3L882.16 1141.4L876.06 1147.5L869.96 1141.4Z" fill="#ff8a1e" stroke="#553010" stroke-width="1.1"/>
<path d="M932.08 1149.4L938.18 1155.5L932.08 1161.6L925.98 1155.5Z" fill="#ff8a1e" stroke="#553010" stroke-width="1.1"/>
<path d="M988.1 1159.6L994.2 1165.7L988.1 1171.8L982 1165.7Z" fill="#ff8a1e" stroke="#553010" stroke-width="1.1"/>
<path d="M1044.12 1184.4L1050.22 1190.5L1044.12 1196.6L1038.02 1190.5Z" fill="#ff8a1e" stroke="#553010" stroke-width="1.1"/>
<path d="M1100.14 1210.1L1106.24 1216.2L1100.14 1222.3L1094.04 1216.2Z" fill="#ff8a1e" stroke="#553010" stroke-width="1.1"/>
<path d="M1156.16 1233.9L1162.26 1240L1156.16 1246.1L1150.06 1240Z" fill="#ff8a1e" stroke="#553010" stroke-width="1.1"/>
<path d="M1212.18 1258.9L1218.28 1265L1212.18 1271.1L1206.08 1265Z" fill="#ff8a1e" stroke="#553010" stroke-width="1.1"/>
<path d="M1268.2 1262.1L1274.3 1268.2L1268.2 1274.3L1262.1 1268.2Z" fill="#ff8a1e" stroke="#553010" stroke-width="1.1"/>
<path d="M708.5 1229V1257M703.9 1229H713.1M703.9 1257H713.1M764.5 1127.7V1157.7M759.9 1127.7H769.1M759.9 1157.7H769.1M820.5 1101.7V1145.3M815.9 1101.7H825.1M815.9 1145.3H825.1M876.5 1111.2V1157.2M871.9 1111.2H881.1M871.9 1157.2H881.1M932.5 1127.2V1163.8M927.9 1127.2H937.1M927.9 1163.8H937.1M988.5 1141.8V1177.8M983.9 1141.8H993.1M983.9 1177.8H993.1M1044.5 1159.2V1198.6M1039.9 1159.2H1049.1M1039.9 1198.6H1049.1M1100.5 1183.4V1230.6M1095.9 1183.4H1105.1M1095.9 1230.6H1105.1M1156.5 1229.6V1253.6M1151.9 1229.6H1161.1M1151.9 1253.6H1161.1M1212.5 1249V1281M1207.9 1249H1217.1M1207.9 1281H1217.1M1268.5 1249V1281M1263.9 1249H1273.1M1263.9 1281H1273.1" stroke="#8d3e9f" stroke-opacity="0.55" stroke-width="1.1" fill="none"/>
<polyline points="708,1243 764.02,1142.7 820.04,1123.5 876.06,1134.2 932.08,1145.5 988.1,1159.8 1044.12,1178.9 1100.14,1207 1156.16,1241.6 1212.18,1265 1268.2,1265" fill="none" stroke="#8d3e9f" stroke-width="3.0" stroke-linejoin="miter" stroke-miterlimit="3"/>
<path d="M708 1236.9L714.1 1243L708 1249.1L701.9 1243Z" fill="#9b4db0" stroke="#3a1a44" stroke-width="1.1"/>
<path d="M764.02 1136.6L770.12 1142.7L764.02 1148.8L757.92 1142.7Z" fill="#9b4db0" stroke="#3a1a44" stroke-width="1.1"/>
<path d="M820.04 1117.4L826.14 1123.5L820.04 1129.6L813.94 1123.5Z" fill="#9b4db0" stroke="#3a1a44" stroke-width="1.1"/>
<path d="M876.06 1128.1L882.16 1134.2L876.06 1140.3L869.96 1134.2Z" fill="#9b4db0" stroke="#3a1a44" stroke-width="1.1"/>
<path d="M932.08 1139.4L938.18 1145.5L932.08 1151.6L925.98 1145.5Z" fill="#9b4db0" stroke="#3a1a44" stroke-width="1.1"/>
<path d="M988.1 1153.7L994.2 1159.8L988.1 1165.9L982 1159.8Z" fill="#9b4db0" stroke="#3a1a44" stroke-width="1.1"/>
<path d="M1044.12 1172.8L1050.22 1178.9L1044.12 1185L1038.02 1178.9Z" fill="#9b4db0" stroke="#3a1a44" stroke-width="1.1"/>
<path d="M1100.14 1200.9L1106.24 1207L1100.14 1213.1L1094.04 1207Z" fill="#9b4db0" stroke="#3a1a44" stroke-width="1.1"/>
<path d="M1156.16 1235.5L1162.26 1241.6L1156.16 1247.7L1150.06 1241.6Z" fill="#9b4db0" stroke="#3a1a44" stroke-width="1.1"/>
<path d="M1212.18 1258.9L1218.28 1265L1212.18 1271.1L1206.08 1265Z" fill="#9b4db0" stroke="#3a1a44" stroke-width="1.1"/>
<path d="M1268.2 1258.9L1274.3 1265L1268.2 1271.1L1262.1 1265Z" fill="#9b4db0" stroke="#3a1a44" stroke-width="1.1"/>
<path d="M708.5 1204.9V1228.9M703.9 1204.9H713.1M703.9 1228.9H713.1M764.5 1115.5V1141.9M759.9 1115.5H769.1M759.9 1141.9H769.1M820.5 1089V1125M815.9 1089H825.1M815.9 1125H825.1M876.5 1103.7V1133.7M871.9 1103.7H881.1M871.9 1133.7H881.1M932.5 1122V1154M927.9 1122H937.1M927.9 1154H937.1M988.5 1137.2V1174.2M983.9 1137.2H993.1M983.9 1174.2H993.1M1044.5 1162.1V1194.1M1039.9 1162.1H1049.1M1039.9 1194.1H1049.1M1100.5 1187V1227M1095.9 1187H1105.1M1095.9 1227H1105.1M1156.5 1218.3V1255.3M1151.9 1218.3H1161.1M1151.9 1255.3H1161.1M1212.5 1248.8V1282.8M1207.9 1248.8H1217.1M1207.9 1282.8H1217.1M1268.5 1244V1278M1263.9 1244H1273.1M1263.9 1278H1273.1" stroke="#38a038" stroke-opacity="0.55" stroke-width="1.1" fill="none"/>
<polyline points="708,1216.9 764.02,1128.7 820.04,1107 876.06,1118.7 932.08,1138 988.1,1155.7 1044.12,1178.1 1100.14,1207 1156.16,1236.8 1212.18,1265.8 1268.2,1261" fill="none" stroke="#38a038" stroke-width="3.0" stroke-linejoin="miter" stroke-miterlimit="3"/>
<path d="M708 1210.8L714.1 1216.9L708 1223L701.9 1216.9Z" fill="#4cae4c" stroke="#1d4a1d" stroke-width="1.1"/>
<path d="M764.02 1122.6L770.12 1128.7L764.02 1134.8L757.92 1128.7Z" fill="#4cae4c" stroke="#1d4a1d" stroke-width="1.1"/>
<path d="M820.04 1100.9L826.14 1107L820.04 1113.1L813.94 1107Z" fill="#4cae4c" stroke="#1d4a1d" stroke-width="1.1"/>
<path d="M876.06 1112.6L882.16 1118.7L876.06 1124.8L869.96 1118.7Z" fill="#4cae4c" stroke="#1d4a1d" stroke-width="1.1"/>
<path d="M932.08 1131.9L938.18 1138L932.08 1144.1L925.98 1138Z" fill="#4cae4c" stroke="#1d4a1d" stroke-width="1.1"/>
<path d="M988.1 1149.6L994.2 1155.7L988.1 1161.8L982 1155.7Z" fill="#4cae4c" stroke="#1d4a1d" stroke-width="1.1"/>
<path d="M1044.12 1172L1050.22 1178.1L1044.12 1184.2L1038.02 1178.1Z" fill="#4cae4c" stroke="#1d4a1d" stroke-width="1.1"/>
<path d="M1100.14 1200.9L1106.24 1207L1100.14 1213.1L1094.04 1207Z" fill="#4cae4c" stroke="#1d4a1d" stroke-width="1.1"/>
<path d="M1156.16 1230.7L1162.26 1236.8L1156.16 1242.9L1150.06 1236.8Z" fill="#4cae4c" stroke="#1d4a1d" stroke-width="1.1"/>
<path d="M1212.18 1259.7L1218.28 1265.8L1212.18 1271.9L1206.08 1265.8Z" fill="#4cae4c" stroke="#1d4a1d" stroke-width="1.1"/>
<path d="M1268.2 1254.9L1274.3 1261L1268.2 1267.1L1262.1 1261Z" fill="#4cae4c" stroke="#1d4a1d" stroke-width="1.1"/>
<path d="M708.5 1178.9V1222.9M703.9 1178.9H713.1M703.9 1222.9H713.1M764.5 1063.6V1104M759.9 1063.6H769.1M759.9 1104H769.1M820.5 1057.5V1101.5M815.9 1057.5H825.1M815.9 1101.5H825.1M876.5 1077.6V1120.2M871.9 1077.6H881.1M871.9 1120.2H881.1M932.5 1099V1141M927.9 1099H937.1M927.9 1141H937.1M988.5 1119.4V1169.4M983.9 1119.4H993.1M983.9 1169.4H993.1M1044.5 1155.5V1192.5M1039.9 1155.5H1049.1M1039.9 1192.5H1049.1M1100.5 1189.3V1223.9M1095.9 1189.3H1105.1M1095.9 1223.9H1105.1M1156.5 1227.5V1254.1M1151.9 1227.5H1161.1M1151.9 1254.1H1161.1M1212.5 1245.4V1281.4M1207.9 1245.4H1217.1M1207.9 1281.4H1217.1M1268.5 1250.4V1284.4M1263.9 1250.4H1273.1M1263.9 1284.4H1273.1" stroke="#2b6fb0" stroke-opacity="0.55" stroke-width="1.1" fill="none"/>
<polyline points="708,1200.9 764.02,1083.8 820.04,1079.5 876.06,1098.9 932.08,1120 988.1,1144.4 1044.12,1174 1100.14,1206.6 1156.16,1240.8 1212.18,1263.4 1268.2,1267.4" fill="none" stroke="#2b6fb0" stroke-width="3.0" stroke-linejoin="miter" stroke-miterlimit="3"/>
<path d="M708 1194.8L714.1 1200.9L708 1207L701.9 1200.9Z" fill="#3a80c6" stroke="#1b3550" stroke-width="1.1"/>
<path d="M764.02 1077.7L770.12 1083.8L764.02 1089.9L757.92 1083.8Z" fill="#3a80c6" stroke="#1b3550" stroke-width="1.1"/>
<path d="M820.04 1073.4L826.14 1079.5L820.04 1085.6L813.94 1079.5Z" fill="#3a80c6" stroke="#1b3550" stroke-width="1.1"/>
<path d="M876.06 1092.8L882.16 1098.9L876.06 1105L869.96 1098.9Z" fill="#3a80c6" stroke="#1b3550" stroke-width="1.1"/>
<path d="M932.08 1113.9L938.18 1120L932.08 1126.1L925.98 1120Z" fill="#3a80c6" stroke="#1b3550" stroke-width="1.1"/>
<path d="M988.1 1138.3L994.2 1144.4L988.1 1150.5L982 1144.4Z" fill="#3a80c6" stroke="#1b3550" stroke-width="1.1"/>
<path d="M1044.12 1167.9L1050.22 1174L1044.12 1180.1L1038.02 1174Z" fill="#3a80c6" stroke="#1b3550" stroke-width="1.1"/>
<path d="M1100.14 1200.5L1106.24 1206.6L1100.14 1212.7L1094.04 1206.6Z" fill="#3a80c6" stroke="#1b3550" stroke-width="1.1"/>
<path d="M1156.16 1234.7L1162.26 1240.8L1156.16 1246.9L1150.06 1240.8Z" fill="#3a80c6" stroke="#1b3550" stroke-width="1.1"/>
<path d="M1212.18 1257.3L1218.28 1263.4L1212.18 1269.5L1206.08 1263.4Z" fill="#3a80c6" stroke="#1b3550" stroke-width="1.1"/>
<path d="M1268.2 1261.3L1274.3 1267.4L1268.2 1273.5L1262.1 1267.4Z" fill="#3a80c6" stroke="#1b3550" stroke-width="1.1"/>
</g>
<path d="M824.6 1102.1L824.6 1089.1" stroke="#000" stroke-width="2.4" fill="none"/><path d="M824.6 1085.1L829.4 1093.3L824.6 1092.1L819.8 1093.3Z" fill="#000"/>
<path d="M814.2 1127.8L814.2 1114.8" stroke="#000" stroke-width="2.4" fill="none"/><path d="M814.2 1110.8L819 1119L814.2 1117.8L809.4 1119Z" fill="#000"/>
<path d="M825.5 1141.8L825.5 1130.7" stroke="#000" stroke-width="2.4" fill="none"/><path d="M825.5 1126.7L830.3 1134.9L825.5 1133.7L820.7 1134.9Z" fill="#000"/>
<path d="M881.6 1165L881.6 1151.4" stroke="#000" stroke-width="2.4" fill="none"/><path d="M881.6 1147.4L886.4 1155.6L881.6 1154.4L876.8 1155.6Z" fill="#000"/>
<rect x="708" y="725.1" width="560.2" height="558.3" fill="none" stroke="#333333" stroke-width="1.3"/>
<path d="M730.41 1283.4v-3.2M730.41 725.1v3.2M752.82 1283.4v-3.2M752.82 725.1v3.2M775.22 1283.4v-3.2M775.22 725.1v3.2M797.63 1283.4v-3.2M797.63 725.1v3.2M820.04 1283.4v-5.5M820.04 725.1v5.5M842.45 1283.4v-3.2M842.45 725.1v3.2M864.86 1283.4v-3.2M864.86 725.1v3.2M887.26 1283.4v-3.2M887.26 725.1v3.2M909.67 1283.4v-3.2M909.67 725.1v3.2M932.08 1283.4v-5.5M932.08 725.1v5.5M954.49 1283.4v-3.2M954.49 725.1v3.2M976.9 1283.4v-3.2M976.9 725.1v3.2M999.3 1283.4v-3.2M999.3 725.1v3.2M1021.71 1283.4v-3.2M1021.71 725.1v3.2M1044.12 1283.4v-5.5M1044.12 725.1v5.5M1066.53 1283.4v-3.2M1066.53 725.1v3.2M1088.94 1283.4v-3.2M1088.94 725.1v3.2M1111.34 1283.4v-3.2M1111.34 725.1v3.2M1133.75 1283.4v-3.2M1133.75 725.1v3.2M1156.16 1283.4v-5.5M1156.16 725.1v5.5M1178.57 1283.4v-3.2M1178.57 725.1v3.2M1200.98 1283.4v-3.2M1200.98 725.1v3.2M1223.38 1283.4v-3.2M1223.38 725.1v3.2M1245.79 1283.4v-3.2M1245.79 725.1v3.2M708 1274.5h5.5M1268.2 1274.5h-5.5M708 1247.03h3.2M1268.2 1247.03h-3.2M708 1219.56h3.2M1268.2 1219.56h-3.2M708 1192.09h3.2M1268.2 1192.09h-3.2M708 1164.62h3.2M1268.2 1164.62h-3.2M708 1137.15h5.5M1268.2 1137.15h-5.5M708 1109.68h3.2M1268.2 1109.68h-3.2M708 1082.21h3.2M1268.2 1082.21h-3.2M708 1054.74h3.2M1268.2 1054.74h-3.2M708 1027.27h3.2M1268.2 1027.27h-3.2M708 999.8h5.5M1268.2 999.8h-5.5M708 972.33h3.2M1268.2 972.33h-3.2M708 944.86h3.2M1268.2 944.86h-3.2M708 917.39h3.2M1268.2 917.39h-3.2M708 889.92h3.2M1268.2 889.92h-3.2M708 862.45h5.5M1268.2 862.45h-5.5M708 834.98h3.2M1268.2 834.98h-3.2M708 807.51h3.2M1268.2 807.51h-3.2M708 780.04h3.2M1268.2 780.04h-3.2M708 752.57h3.2M1268.2 752.57h-3.2" stroke="#333333" stroke-width="1.2" fill="none"/>
<text class="t" transform="translate(708 1307) scale(1 1.04)" font-size="18.5" text-anchor="middle">0</text>
<text class="t" transform="translate(820.04 1307) scale(1 1.04)" font-size="18.5" text-anchor="middle">0.1</text>
<text class="t" transform="translate(932.08 1307) scale(1 1.04)" font-size="18.5" text-anchor="middle">0.2</text>
<text class="t" transform="translate(1044.12 1307) scale(1 1.04)" font-size="18.5" text-anchor="middle">0.3</text>
<text class="t" transform="translate(1156.16 1307) scale(1 1.04)" font-size="18.5" text-anchor="middle">0.4</text>
<text class="t" transform="translate(1268.2 1307) scale(1 1.04)" font-size="18.5" text-anchor="middle">0.5</text>
<text class="t" transform="translate(702.4 1281.1) scale(1 1.04)" font-size="18.5" text-anchor="end">0</text>
<text class="t" transform="translate(702.4 1143.75) scale(1 1.04)" font-size="18.5" text-anchor="end">5</text>
<text class="t" transform="translate(702.4 1006.4) scale(1 1.04)" font-size="18.5" text-anchor="end">10</text>
<text class="t" transform="translate(702.4 869.05) scale(1 1.04)" font-size="18.5" text-anchor="end">15</text>
<text class="t" transform="translate(702.4 731.7) scale(1 1.04)" font-size="18.5" text-anchor="end">20</text>
<path d="M1119.3 765.1V782.3M1114.6 765.1H1124M1114.6 782.3H1124" stroke="#84aad0" stroke-width="1" fill="none"/>
<path d="M1093.6 773.7H1145.2" stroke="#2b6fb0" stroke-width="3.0"/>
<path d="M1119.3 767.6L1125.4 773.7L1119.3 779.8L1113.2 773.7Z" fill="#3a80c6" stroke="#1b3550" stroke-width="1.1"/>
<text class="s" x="1166.9" y="780.9" font-size="18.5">G'=0.0005</text>
<path d="M1119.3 786.3V803.5M1114.6 786.3H1124M1114.6 803.5H1124" stroke="#a0c9a0" stroke-width="1" fill="none"/>
<path d="M1093.6 794.9H1145.2" stroke="#38a038" stroke-width="3.0"/>
<path d="M1119.3 788.8L1125.4 794.9L1119.3 801L1113.2 794.9Z" fill="#4cae4c" stroke="#1d4a1d" stroke-width="1.1"/>
<text class="s" x="1166.9" y="802.1" font-size="18.5">G'=0.001</text>
<path d="M1119.3 807.5V824.7M1114.6 807.5H1124M1114.6 824.7H1124" stroke="#c49dcf" stroke-width="1" fill="none"/>
<path d="M1093.6 816.1H1145.2" stroke="#8d3e9f" stroke-width="3.0"/>
<path d="M1119.3 810L1125.4 816.1L1119.3 822.2L1113.2 816.1Z" fill="#9b4db0" stroke="#3a1a44" stroke-width="1.1"/>
<text class="s" x="1166.9" y="823.3" font-size="18.5">G'=0.0015</text>
<path d="M1119.3 828.7V845.9M1114.6 828.7H1124M1114.6 845.9H1124" stroke="#f8bb82" stroke-width="1" fill="none"/>
<path d="M1093.6 837.3H1145.2" stroke="#ff7a0a" stroke-width="3.0"/>
<path d="M1119.3 831.2L1125.4 837.3L1119.3 843.4L1113.2 837.3Z" fill="#ff8a1e" stroke="#553010" stroke-width="1.1"/>
<text class="s" x="1166.9" y="844.5" font-size="18.5">G'=0.002</text>
<text class="t" transform="translate(1107 876.2) scale(1 1.04)" font-size="16.5">Max</text>
<path d="M1169.4 870.3H1204.3" stroke="#000" stroke-width="1.6"/>
<path d="M1208.3 870.3L1199.9 865.8L1202.1 870.3L1199.9 874.8Z" fill="#000"/>
<g clip-path="url(#clf)">
<path d="M1321.5 1224.2V1248.2M1316.9 1224.2H1326.1M1316.9 1248.2H1326.1M1377.5 1145.3V1176.3M1372.9 1145.3H1382.1M1372.9 1176.3H1382.1M1433.5 1143.1V1183.9M1428.9 1143.1H1438.1M1428.9 1183.9H1438.1M1489.5 1162.3V1190.3M1484.9 1162.3H1494.1M1484.9 1190.3H1494.1M1545.5 1193.6V1225.6M1540.9 1193.6H1550.1M1540.9 1225.6H1550.1M1601.5 1245.8V1273.8M1596.9 1245.8H1606.1M1596.9 1273.8H1606.1M1657.5 1250.7V1272.7M1652.9 1250.7H1662.1M1652.9 1272.7H1662.1M1713.5 1240.4V1279.2M1708.9 1240.4H1718.1M1708.9 1279.2H1718.1M1769.5 1253.5V1277.5M1764.9 1253.5H1774.1M1764.9 1277.5H1774.1M1825.5 1251.5V1277.5M1820.9 1251.5H1830.1M1820.9 1277.5H1830.1M1881.5 1253V1277M1876.9 1253H1886.1M1876.9 1277H1886.1" stroke="#ff7a0a" stroke-opacity="0.55" stroke-width="1.1" fill="none"/>
<polyline points="1321.1,1236.2 1377.09,1160.8 1433.08,1163.5 1489.07,1176.3 1545.06,1209.6 1601.05,1259.8 1657.04,1261.7 1713.03,1259.8 1769.02,1265.5 1825.01,1264.5 1881,1265" fill="none" stroke="#ff7a0a" stroke-width="3.0" stroke-linejoin="miter" stroke-miterlimit="3"/>
<path d="M1321.1 1230.1L1327.2 1236.2L1321.1 1242.3L1315 1236.2Z" fill="#ff8a1e" stroke="#553010" stroke-width="1.1"/>
<path d="M1377.09 1154.7L1383.19 1160.8L1377.09 1166.9L1370.99 1160.8Z" fill="#ff8a1e" stroke="#553010" stroke-width="1.1"/>
<path d="M1433.08 1157.4L1439.18 1163.5L1433.08 1169.6L1426.98 1163.5Z" fill="#ff8a1e" stroke="#553010" stroke-width="1.1"/>
<path d="M1489.07 1170.2L1495.17 1176.3L1489.07 1182.4L1482.97 1176.3Z" fill="#ff8a1e" stroke="#553010" stroke-width="1.1"/>
<path d="M1545.06 1203.5L1551.16 1209.6L1545.06 1215.7L1538.96 1209.6Z" fill="#ff8a1e" stroke="#553010" stroke-width="1.1"/>
<path d="M1601.05 1253.7L1607.15 1259.8L1601.05 1265.9L1594.95 1259.8Z" fill="#ff8a1e" stroke="#553010" stroke-width="1.1"/>
<path d="M1657.04 1255.6L1663.14 1261.7L1657.04 1267.8L1650.94 1261.7Z" fill="#ff8a1e" stroke="#553010" stroke-width="1.1"/>
<path d="M1713.03 1253.7L1719.13 1259.8L1713.03 1265.9L1706.93 1259.8Z" fill="#ff8a1e" stroke="#553010" stroke-width="1.1"/>
<path d="M1769.02 1259.4L1775.12 1265.5L1769.02 1271.6L1762.92 1265.5Z" fill="#ff8a1e" stroke="#553010" stroke-width="1.1"/>
<path d="M1825.01 1258.4L1831.11 1264.5L1825.01 1270.6L1818.91 1264.5Z" fill="#ff8a1e" stroke="#553010" stroke-width="1.1"/>
<path d="M1881 1258.9L1887.1 1265L1881 1271.1L1874.9 1265Z" fill="#ff8a1e" stroke="#553010" stroke-width="1.1"/>
<path d="M1321.5 1227.7V1253.7M1316.9 1227.7H1326.1M1316.9 1253.7H1326.1M1377.5 1142.7V1169.9M1372.9 1142.7H1382.1M1372.9 1169.9H1382.1M1433.5 1133.9V1170.7M1428.9 1133.9H1438.1M1428.9 1170.7H1438.1M1489.5 1159.3V1185.3M1484.9 1159.3H1494.1M1484.9 1185.3H1494.1M1545.5 1178.4V1220.4M1540.9 1178.4H1550.1M1540.9 1220.4H1550.1M1601.5 1238.4V1280.4M1596.9 1238.4H1606.1M1596.9 1280.4H1606.1M1657.5 1261.7V1277.7M1652.9 1261.7H1662.1M1652.9 1277.7H1662.1M1713.5 1254.4V1278.4M1708.9 1254.4H1718.1M1708.9 1278.4H1718.1M1769.5 1251.5V1279.5M1764.9 1251.5H1774.1M1764.9 1279.5H1774.1M1825.5 1245.3V1277.3M1820.9 1245.3H1830.1M1820.9 1277.3H1830.1M1881.5 1252.5V1276.5M1876.9 1252.5H1886.1M1876.9 1276.5H1886.1" stroke="#8d3e9f" stroke-opacity="0.55" stroke-width="1.1" fill="none"/>
<polyline points="1321.1,1240.7 1377.09,1156.3 1433.08,1152.3 1489.07,1172.3 1545.06,1199.4 1601.05,1259.4 1657.04,1269.7 1713.03,1266.4 1769.02,1265.5 1825.01,1261.3 1881,1264.5" fill="none" stroke="#8d3e9f" stroke-width="3.0" stroke-linejoin="miter" stroke-miterlimit="3"/>
<path d="M1321.1 1234.6L1327.2 1240.7L1321.1 1246.8L1315 1240.7Z" fill="#9b4db0" stroke="#3a1a44" stroke-width="1.1"/>
<path d="M1377.09 1150.2L1383.19 1156.3L1377.09 1162.4L1370.99 1156.3Z" fill="#9b4db0" stroke="#3a1a44" stroke-width="1.1"/>
<path d="M1433.08 1146.2L1439.18 1152.3L1433.08 1158.4L1426.98 1152.3Z" fill="#9b4db0" stroke="#3a1a44" stroke-width="1.1"/>
<path d="M1489.07 1166.2L1495.17 1172.3L1489.07 1178.4L1482.97 1172.3Z" fill="#9b4db0" stroke="#3a1a44" stroke-width="1.1"/>
<path d="M1545.06 1193.3L1551.16 1199.4L1545.06 1205.5L1538.96 1199.4Z" fill="#9b4db0" stroke="#3a1a44" stroke-width="1.1"/>
<path d="M1601.05 1253.3L1607.15 1259.4L1601.05 1265.5L1594.95 1259.4Z" fill="#9b4db0" stroke="#3a1a44" stroke-width="1.1"/>
<path d="M1657.04 1263.6L1663.14 1269.7L1657.04 1275.8L1650.94 1269.7Z" fill="#9b4db0" stroke="#3a1a44" stroke-width="1.1"/>
<path d="M1713.03 1260.3L1719.13 1266.4L1713.03 1272.5L1706.93 1266.4Z" fill="#9b4db0" stroke="#3a1a44" stroke-width="1.1"/>
<path d="M1769.02 1259.4L1775.12 1265.5L1769.02 1271.6L1762.92 1265.5Z" fill="#9b4db0" stroke="#3a1a44" stroke-width="1.1"/>
<path d="M1825.01 1255.2L1831.11 1261.3L1825.01 1267.4L1818.91 1261.3Z" fill="#9b4db0" stroke="#3a1a44" stroke-width="1.1"/>
<path d="M1881 1258.4L1887.1 1264.5L1881 1270.6L1874.9 1264.5Z" fill="#9b4db0" stroke="#3a1a44" stroke-width="1.1"/>
<path d="M1321.5 1187.9V1239.1M1316.9 1187.9H1326.1M1316.9 1239.1H1326.1M1377.5 1121.4V1147.4M1372.9 1121.4H1382.1M1372.9 1147.4H1382.1M1433.5 1128.2V1158.2M1428.9 1128.2H1438.1M1428.9 1158.2H1438.1M1489.5 1149.6V1190.2M1484.9 1149.6H1494.1M1484.9 1190.2H1494.1M1545.5 1178.6V1218.6M1540.9 1178.6H1550.1M1540.9 1218.6H1550.1M1601.5 1241.8V1275.8M1596.9 1241.8H1606.1M1596.9 1275.8H1606.1M1657.5 1242.6V1284.6M1652.9 1242.6H1662.1M1652.9 1284.6H1662.1M1713.5 1251.9V1279.9M1708.9 1251.9H1718.1M1708.9 1279.9H1718.1M1769.5 1246.7V1276.7M1764.9 1246.7H1774.1M1764.9 1276.7H1774.1M1825.5 1253.5V1277.5M1820.9 1253.5H1830.1M1820.9 1277.5H1830.1M1881.5 1253.1V1277.1M1876.9 1253.1H1886.1M1876.9 1277.1H1886.1" stroke="#38a038" stroke-opacity="0.55" stroke-width="1.1" fill="none"/>
<polyline points="1321.1,1213.5 1377.09,1134.4 1433.08,1143.2 1489.07,1169.9 1545.06,1198.6 1601.05,1258.8 1657.04,1263.6 1713.03,1265.9 1769.02,1261.7 1825.01,1265.5 1881,1265.1" fill="none" stroke="#38a038" stroke-width="3.0" stroke-linejoin="miter" stroke-miterlimit="3"/>
<path d="M1321.1 1207.4L1327.2 1213.5L1321.1 1219.6L1315 1213.5Z" fill="#4cae4c" stroke="#1d4a1d" stroke-width="1.1"/>
<path d="M1377.09 1128.3L1383.19 1134.4L1377.09 1140.5L1370.99 1134.4Z" fill="#4cae4c" stroke="#1d4a1d" stroke-width="1.1"/>
<path d="M1433.08 1137.1L1439.18 1143.2L1433.08 1149.3L1426.98 1143.2Z" fill="#4cae4c" stroke="#1d4a1d" stroke-width="1.1"/>
<path d="M1489.07 1163.8L1495.17 1169.9L1489.07 1176L1482.97 1169.9Z" fill="#4cae4c" stroke="#1d4a1d" stroke-width="1.1"/>
<path d="M1545.06 1192.5L1551.16 1198.6L1545.06 1204.7L1538.96 1198.6Z" fill="#4cae4c" stroke="#1d4a1d" stroke-width="1.1"/>
<path d="M1601.05 1252.7L1607.15 1258.8L1601.05 1264.9L1594.95 1258.8Z" fill="#4cae4c" stroke="#1d4a1d" stroke-width="1.1"/>
<path d="M1657.04 1257.5L1663.14 1263.6L1657.04 1269.7L1650.94 1263.6Z" fill="#4cae4c" stroke="#1d4a1d" stroke-width="1.1"/>
<path d="M1713.03 1259.8L1719.13 1265.9L1713.03 1272L1706.93 1265.9Z" fill="#4cae4c" stroke="#1d4a1d" stroke-width="1.1"/>
<path d="M1769.02 1255.6L1775.12 1261.7L1769.02 1267.8L1762.92 1261.7Z" fill="#4cae4c" stroke="#1d4a1d" stroke-width="1.1"/>
<path d="M1825.01 1259.4L1831.11 1265.5L1825.01 1271.6L1818.91 1265.5Z" fill="#4cae4c" stroke="#1d4a1d" stroke-width="1.1"/>
<path d="M1881 1259L1887.1 1265.1L1881 1271.2L1874.9 1265.1Z" fill="#4cae4c" stroke="#1d4a1d" stroke-width="1.1"/>
<path d="M1321.5 1190.5V1223.7M1316.9 1190.5H1326.1M1316.9 1223.7H1326.1M1377.5 1095.2V1121.6M1372.9 1095.2H1382.1M1372.9 1121.6H1382.1M1433.5 1098V1145M1428.9 1098H1438.1M1428.9 1145H1438.1M1489.5 1132V1171M1484.9 1132H1494.1M1484.9 1171H1494.1M1545.5 1174.1V1222.1M1540.9 1174.1H1550.1M1540.9 1222.1H1550.1M1601.5 1238.9V1276.9M1596.9 1238.9H1606.1M1596.9 1276.9H1606.1M1657.5 1245.8V1273.8M1652.9 1245.8H1662.1M1652.9 1273.8H1662.1M1713.5 1238.3V1277.5M1708.9 1238.3H1718.1M1708.9 1277.5H1718.1M1769.5 1252.4V1280.4M1764.9 1252.4H1774.1M1764.9 1280.4H1774.1M1825.5 1251.9V1279.9M1820.9 1251.9H1830.1M1820.9 1279.9H1830.1M1881.5 1250.5V1278.5M1876.9 1250.5H1886.1M1876.9 1278.5H1886.1" stroke="#2b6fb0" stroke-opacity="0.55" stroke-width="1.1" fill="none"/>
<polyline points="1321.1,1207.1 1377.09,1108.4 1433.08,1121.5 1489.07,1151.5 1545.06,1198.1 1601.05,1257.9 1657.04,1259.8 1713.03,1257.9 1769.02,1266.4 1825.01,1265.9 1881,1264.5" fill="none" stroke="#2b6fb0" stroke-width="3.0" stroke-linejoin="miter" stroke-miterlimit="3"/>
<path d="M1321.1 1201L1327.2 1207.1L1321.1 1213.2L1315 1207.1Z" fill="#3a80c6" stroke="#1b3550" stroke-width="1.1"/>
<path d="M1377.09 1102.3L1383.19 1108.4L1377.09 1114.5L1370.99 1108.4Z" fill="#3a80c6" stroke="#1b3550" stroke-width="1.1"/>
<path d="M1433.08 1115.4L1439.18 1121.5L1433.08 1127.6L1426.98 1121.5Z" fill="#3a80c6" stroke="#1b3550" stroke-width="1.1"/>
<path d="M1489.07 1145.4L1495.17 1151.5L1489.07 1157.6L1482.97 1151.5Z" fill="#3a80c6" stroke="#1b3550" stroke-width="1.1"/>
<path d="M1545.06 1192L1551.16 1198.1L1545.06 1204.2L1538.96 1198.1Z" fill="#3a80c6" stroke="#1b3550" stroke-width="1.1"/>
<path d="M1601.05 1251.8L1607.15 1257.9L1601.05 1264L1594.95 1257.9Z" fill="#3a80c6" stroke="#1b3550" stroke-width="1.1"/>
<path d="M1657.04 1253.7L1663.14 1259.8L1657.04 1265.9L1650.94 1259.8Z" fill="#3a80c6" stroke="#1b3550" stroke-width="1.1"/>
<path d="M1713.03 1251.8L1719.13 1257.9L1713.03 1264L1706.93 1257.9Z" fill="#3a80c6" stroke="#1b3550" stroke-width="1.1"/>
<path d="M1769.02 1260.3L1775.12 1266.4L1769.02 1272.5L1762.92 1266.4Z" fill="#3a80c6" stroke="#1b3550" stroke-width="1.1"/>
<path d="M1825.01 1259.8L1831.11 1265.9L1825.01 1272L1818.91 1265.9Z" fill="#3a80c6" stroke="#1b3550" stroke-width="1.1"/>
<path d="M1881 1258.4L1887.1 1264.5L1881 1270.6L1874.9 1264.5Z" fill="#3a80c6" stroke="#1b3550" stroke-width="1.1"/>
</g>
<path d="M1380.5 1128.3L1380.5 1115.9" stroke="#000" stroke-width="2.4" fill="none"/><path d="M1380.5 1111.9L1385.3 1120.1L1380.5 1118.9L1375.7 1120.1Z" fill="#000"/>
<path d="M1382.9 1153.9L1382.9 1144" stroke="#000" stroke-width="2.4" fill="none"/><path d="M1382.9 1140L1387.7 1148.2L1382.9 1147L1378.1 1148.2Z" fill="#000"/>
<path d="M1425.6 1173.1L1425.6 1160.3" stroke="#000" stroke-width="2.4" fill="none"/><path d="M1425.6 1156.3L1430.4 1164.5L1425.6 1163.3L1420.8 1164.5Z" fill="#000"/>
<path d="M1382.4 1182.7L1382.4 1169.6" stroke="#000" stroke-width="2.4" fill="none"/><path d="M1382.4 1165.6L1387.2 1173.8L1382.4 1172.6L1377.6 1173.8Z" fill="#000"/>
<rect x="1321.1" y="725.1" width="559.9" height="558.3" fill="none" stroke="#333333" stroke-width="1.3"/>
<path d="M1343.5 1283.4v-3.2M1343.5 725.1v3.2M1365.89 1283.4v-3.2M1365.89 725.1v3.2M1388.29 1283.4v-3.2M1388.29 725.1v3.2M1410.68 1283.4v-3.2M1410.68 725.1v3.2M1433.08 1283.4v-5.5M1433.08 725.1v5.5M1455.48 1283.4v-3.2M1455.48 725.1v3.2M1477.87 1283.4v-3.2M1477.87 725.1v3.2M1500.27 1283.4v-3.2M1500.27 725.1v3.2M1522.66 1283.4v-3.2M1522.66 725.1v3.2M1545.06 1283.4v-5.5M1545.06 725.1v5.5M1567.46 1283.4v-3.2M1567.46 725.1v3.2M1589.85 1283.4v-3.2M1589.85 725.1v3.2M1612.25 1283.4v-3.2M1612.25 725.1v3.2M1634.64 1283.4v-3.2M1634.64 725.1v3.2M1657.04 1283.4v-5.5M1657.04 725.1v5.5M1679.44 1283.4v-3.2M1679.44 725.1v3.2M1701.83 1283.4v-3.2M1701.83 725.1v3.2M1724.23 1283.4v-3.2M1724.23 725.1v3.2M1746.62 1283.4v-3.2M1746.62 725.1v3.2M1769.02 1283.4v-5.5M1769.02 725.1v5.5M1791.42 1283.4v-3.2M1791.42 725.1v3.2M1813.81 1283.4v-3.2M1813.81 725.1v3.2M1836.21 1283.4v-3.2M1836.21 725.1v3.2M1858.6 1283.4v-3.2M1858.6 725.1v3.2M1321.1 1272.1h5.5M1881 1272.1h-5.5M1321.1 1244.75h3.2M1881 1244.75h-3.2M1321.1 1217.4h3.2M1881 1217.4h-3.2M1321.1 1190.05h3.2M1881 1190.05h-3.2M1321.1 1162.7h3.2M1881 1162.7h-3.2M1321.1 1135.35h5.5M1881 1135.35h-5.5M1321.1 1108h3.2M1881 1108h-3.2M1321.1 1080.65h3.2M1881 1080.65h-3.2M1321.1 1053.3h3.2M1881 1053.3h-3.2M1321.1 1025.95h3.2M1881 1025.95h-3.2M1321.1 998.6h5.5M1881 998.6h-5.5M1321.1 971.25h3.2M1881 971.25h-3.2M1321.1 943.9h3.2M1881 943.9h-3.2M1321.1 916.55h3.2M1881 916.55h-3.2M1321.1 889.2h3.2M1881 889.2h-3.2M1321.1 861.85h5.5M1881 861.85h-5.5M1321.1 834.5h3.2M1881 834.5h-3.2M1321.1 807.15h3.2M1881 807.15h-3.2M1321.1 779.8h3.2M1881 779.8h-3.2M1321.1 752.45h3.2M1881 752.45h-3.2" stroke="#333333" stroke-width="1.2" fill="none"/>
<text class="t" transform="translate(1321.1 1307) scale(1 1.04)" font-size="18.5" text-anchor="middle">0</text>
<text class="t" transform="translate(1433.08 1307) scale(1 1.04)" font-size="18.5" text-anchor="middle">0.1</text>
<text class="t" transform="translate(1545.06 1307) scale(1 1.04)" font-size="18.5" text-anchor="middle">0.2</text>
<text class="t" transform="translate(1657.04 1307) scale(1 1.04)" font-size="18.5" text-anchor="middle">0.3</text>
<text class="t" transform="translate(1769.02 1307) scale(1 1.04)" font-size="18.5" text-anchor="middle">0.4</text>
<text class="t" transform="translate(1881 1307) scale(1 1.04)" font-size="18.5" text-anchor="middle">0.5</text>
<text class="t" transform="translate(1315.5 1278.7) scale(1 1.04)" font-size="18.5" text-anchor="end">0</text>
<text class="t" transform="translate(1315.5 1141.95) scale(1 1.04)" font-size="18.5" text-anchor="end">5</text>
<text class="t" transform="translate(1315.5 1005.2) scale(1 1.04)" font-size="18.5" text-anchor="end">10</text>
<text class="t" transform="translate(1315.5 868.45) scale(1 1.04)" font-size="18.5" text-anchor="end">15</text>
<text class="t" transform="translate(1315.5 731.7) scale(1 1.04)" font-size="18.5" text-anchor="end">20</text>
<path d="M1732.1 765.1V782.3M1727.4 765.1H1736.8M1727.4 782.3H1736.8" stroke="#84aad0" stroke-width="1" fill="none"/>
<path d="M1706.4 773.7H1758" stroke="#2b6fb0" stroke-width="3.0"/>
<path d="M1732.1 767.6L1738.2 773.7L1732.1 779.8L1726 773.7Z" fill="#3a80c6" stroke="#1b3550" stroke-width="1.1"/>
<text class="s" x="1779.7" y="780.9" font-size="18.5">G'=0.0005</text>
<path d="M1732.1 786.3V803.5M1727.4 786.3H1736.8M1727.4 803.5H1736.8" stroke="#a0c9a0" stroke-width="1" fill="none"/>
<path d="M1706.4 794.9H1758" stroke="#38a038" stroke-width="3.0"/>
<path d="M1732.1 788.8L1738.2 794.9L1732.1 801L1726 794.9Z" fill="#4cae4c" stroke="#1d4a1d" stroke-width="1.1"/>
<text class="s" x="1779.7" y="802.1" font-size="18.5">G'=0.001</text>
<path d="M1732.1 807.5V824.7M1727.4 807.5H1736.8M1727.4 824.7H1736.8" stroke="#c49dcf" stroke-width="1" fill="none"/>
<path d="M1706.4 816.1H1758" stroke="#8d3e9f" stroke-width="3.0"/>
<path d="M1732.1 810L1738.2 816.1L1732.1 822.2L1726 816.1Z" fill="#9b4db0" stroke="#3a1a44" stroke-width="1.1"/>
<text class="s" x="1779.7" y="823.3" font-size="18.5">G'=0.0015</text>
<path d="M1732.1 828.7V845.9M1727.4 828.7H1736.8M1727.4 845.9H1736.8" stroke="#f8bb82" stroke-width="1" fill="none"/>
<path d="M1706.4 837.3H1758" stroke="#ff7a0a" stroke-width="3.0"/>
<path d="M1732.1 831.2L1738.2 837.3L1732.1 843.4L1726 837.3Z" fill="#ff8a1e" stroke="#553010" stroke-width="1.1"/>
<text class="s" x="1779.7" y="844.5" font-size="18.5">G'=0.002</text>
<text class="t" transform="translate(1719.8 876.2) scale(1 1.04)" font-size="16.5">Max</text>
<path d="M1782.2 870.3H1817.1" stroke="#000" stroke-width="1.6"/>
<path d="M1821.1 870.3L1812.7 865.8L1814.9 870.3L1812.7 874.8Z" fill="#000"/>
<text class="t" x="65.6" y="53.5" font-size="42">a</text>
<text class="t" x="681.4" y="56.8" font-size="42">b</text>
<text class="t" x="1284.6" y="53.7" font-size="42">c</text>
<text class="t" x="66.2" y="707.1" font-size="42">d</text>
<text class="t" x="683" y="705" font-size="42">e</text>
<text class="t" x="1287" y="705.6" font-size="42">f</text>
<text class="t" transform="translate(318.5 46.1) scale(1 1.04)" font-size="43"><tspan font-style="italic">B</tspan>=1</text>
<text class="t" transform="translate(930 36.4) scale(1 1.04)" font-size="43"><tspan font-style="italic">B</tspan>=0.75</text>
<text class="t" transform="translate(1519.8 39.9) scale(1 1.04)" font-size="43"><tspan font-style="italic">B</tspan>=0.5</text>
<text class="t" font-size="43.2" transform="translate(36.8 1075.6) rotate(-90) scale(1 1.04)">Number of surviving species</text>
<text class="t" transform="translate(771 1364.3) scale(1 1.04)" font-size="43.3">Grazing intensity <tspan font-style="italic">G</tspan></text>
</svg></body></html>
